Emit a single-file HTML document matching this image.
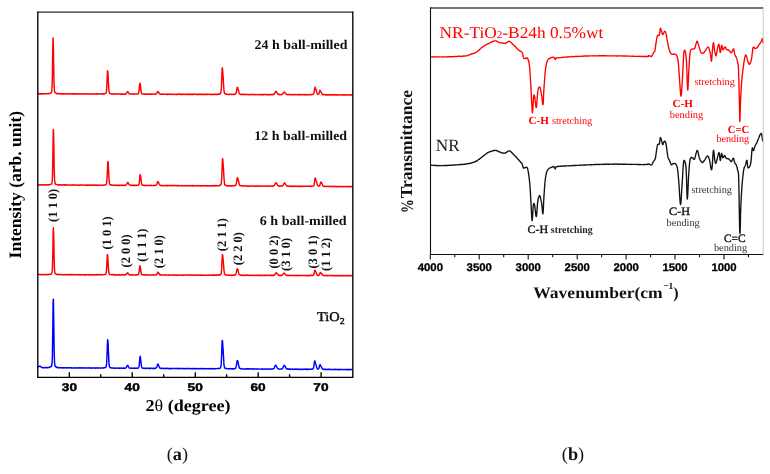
<!DOCTYPE html>
<html><head><meta charset="utf-8">
<style>
html,body{margin:0;padding:0;background:#fff;}
body{width:770px;height:474px;overflow:hidden;}
svg{display:block;will-change:transform;}
svg text{font-family:"Liberation Serif",serif;text-rendering:geometricPrecision;}
svg .sans text{font-family:"Liberation Sans",sans-serif;font-weight:bold;}
.sans{font-family:"Liberation Sans",sans-serif;font-weight:bold;}
.b{font-weight:bold;}
</style></head>
<body>
<svg width="770" height="474" viewBox="0 0 770 474">
<rect width="770" height="474" fill="#fff"/>
<!-- ================= (a) ================= -->
<g fill="none" stroke-linejoin="round" stroke-linecap="round">
<path d="M38.4 93.6L38.6 93.9L38.9 93.9L39.1 93.7L39.4 93.8L39.6 93.8L39.9 93.8L40.1 93.9L40.4 93.6L40.6 93.6L40.9 93.9L41.1 93.8L41.4 93.9L41.6 93.6L41.9 93.8L42.1 93.9L42.4 93.7L42.6 93.9L42.9 93.9L43.1 93.6L43.4 93.6L43.6 93.8L43.9 93.9L44.1 93.7L44.4 93.7L44.6 93.7L44.9 93.6L45.1 93.6L45.4 93.7L45.6 93.7L45.9 93.6L46.1 93.6L46.4 93.6L46.6 93.7L46.9 93.6L47.1 93.5L47.4 93.8L47.6 93.7L47.9 93.7L48.1 93.5L48.4 93.8L48.6 93.7L48.9 93.4L49.1 93.5L49.4 93.6L49.6 93.5L49.9 93.6L50.1 93.3L50.4 93.3L50.6 93.2L50.9 92.9L51.1 92.7L51.4 92.5L51.6 91.8L51.9 90.0L52.1 85.7L52.4 75.7L52.6 59.8L52.9 43.5L53.0 39.4L53.1 37.9L53.4 46.2L53.6 61.7L53.9 76.3L54.1 85.4L54.4 89.8L54.6 91.6L54.9 92.4L55.1 92.7L55.4 92.9L55.6 93.1L55.9 93.1L56.1 93.2L56.4 93.5L56.6 93.7L56.9 93.6L57.1 93.5L57.4 93.5L57.6 93.6L57.9 93.8L58.1 93.8L58.4 93.7L58.6 93.8L58.9 93.6L59.1 93.7L59.4 93.9L59.6 93.8L59.9 93.8L60.1 93.7L60.4 93.8L60.6 94.0L60.9 93.6L61.1 93.9L61.4 93.9L61.6 94.0L61.9 93.9L62.1 93.9L62.4 93.8L62.6 93.9L62.9 93.8L63.1 93.7L63.4 94.0L63.6 93.9L63.9 93.7L64.2 93.9L64.4 93.8L64.7 93.8L64.9 93.8L65.2 93.9L65.4 93.9L65.7 93.9L65.9 93.8L66.2 93.7L66.4 93.8L66.7 93.8L66.9 93.9L67.2 94.0L67.4 94.0L67.7 94.0L67.9 94.0L68.2 93.8L68.4 94.0L68.7 93.9L68.9 93.7L69.2 93.7L69.4 93.7L69.7 94.0L69.9 93.8L70.2 93.8L70.4 93.9L70.7 93.8L70.9 93.7L71.2 93.8L71.4 93.9L71.7 93.8L71.9 93.8L72.2 94.0L72.4 93.9L72.7 93.8L72.9 93.9L73.2 93.7L73.4 93.9L73.7 93.9L73.9 93.8L74.2 93.8L74.4 94.1L74.7 93.9L74.9 93.8L75.2 94.0L75.4 94.0L75.7 93.7L75.9 93.7L76.2 93.8L76.4 94.0L76.7 93.8L76.9 94.0L77.2 94.0L77.4 93.9L77.7 93.8L77.9 94.1L78.2 94.0L78.4 93.9L78.7 93.8L78.9 94.0L79.2 93.9L79.4 94.0L79.7 93.9L79.9 94.0L80.2 93.8L80.4 93.9L80.7 94.1L80.9 94.1L81.2 93.9L81.4 94.1L81.7 93.9L81.9 94.1L82.2 94.0L82.4 93.9L82.7 93.9L82.9 93.8L83.2 94.1L83.4 93.8L83.7 94.1L83.9 94.1L84.2 94.0L84.4 93.8L84.7 94.1L84.9 94.1L85.2 94.0L85.4 94.0L85.7 93.9L85.9 93.9L86.2 93.8L86.4 94.0L86.7 93.9L86.9 93.8L87.2 93.8L87.4 94.0L87.7 93.9L87.9 94.0L88.2 93.9L88.4 94.1L88.7 94.1L88.9 93.8L89.2 93.9L89.4 93.9L89.7 94.1L89.9 94.1L90.2 93.9L90.4 93.9L90.7 94.0L90.9 94.1L91.2 94.1L91.4 93.9L91.7 94.1L91.9 94.0L92.2 94.0L92.4 94.1L92.7 93.9L92.9 94.1L93.2 93.8L93.4 93.9L93.7 94.1L93.9 93.9L94.2 94.1L94.4 94.0L94.7 94.1L94.9 93.9L95.2 93.9L95.4 93.9L95.7 94.1L95.9 94.0L96.2 94.1L96.4 94.1L96.7 93.8L96.9 94.0L97.2 93.8L97.4 93.8L97.7 93.8L97.9 94.1L98.2 94.1L98.4 94.1L98.7 93.9L98.9 94.0L99.2 94.1L99.4 93.9L99.7 94.0L99.9 93.9L100.2 93.8L100.4 93.9L100.7 94.1L100.9 94.0L101.2 94.1L101.4 93.9L101.7 93.9L101.9 94.0L102.2 94.0L102.4 93.7L102.7 94.0L102.9 93.7L103.2 93.7L103.4 94.0L103.7 93.7L103.9 93.7L104.2 94.0L104.4 93.7L104.7 93.6L104.9 93.5L105.2 93.5L105.4 93.6L105.7 93.2L105.9 93.2L106.2 92.5L106.4 91.4L106.7 88.7L106.9 84.0L107.2 78.0L107.4 72.7L107.5 71.2L107.7 70.8L107.9 72.5L108.2 76.9L108.4 82.6L108.7 87.0L108.9 90.3L109.2 92.0L109.4 92.8L109.7 93.1L109.9 93.6L110.2 93.7L110.4 93.8L110.7 93.6L110.9 93.7L111.2 93.8L111.4 94.0L111.7 93.9L111.9 94.0L112.2 94.0L112.4 93.8L112.7 94.0L112.9 93.9L113.2 93.9L113.4 93.8L113.7 93.9L113.9 94.2L114.2 94.0L114.4 94.0L114.7 94.1L114.9 94.2L115.2 94.0L115.4 93.9L115.7 94.0L115.9 94.0L116.2 94.1L116.4 94.2L116.7 94.0L116.9 94.0L117.2 94.0L117.4 94.1L117.7 94.1L117.9 93.9L118.2 93.9L118.4 94.0L118.7 93.9L118.9 94.1L119.2 93.9L119.4 93.9L119.7 94.1L119.9 94.0L120.2 94.2L120.4 94.1L120.7 94.2L120.9 93.9L121.2 94.1L121.4 94.2L121.7 93.9L121.9 94.2L122.2 93.9L122.4 94.2L122.7 94.2L122.9 94.2L123.2 94.0L123.4 93.9L123.7 94.1L123.9 94.2L124.2 94.0L124.4 94.2L124.7 93.9L124.9 94.2L125.2 93.8L125.4 93.9L125.7 94.1L125.9 93.9L126.2 93.8L126.4 93.5L126.7 93.1L126.9 92.6L127.2 91.9L127.4 91.7L127.7 91.6L127.9 92.0L128.2 92.3L128.4 92.6L128.7 93.0L128.9 93.6L129.2 93.8L129.4 93.9L129.7 94.0L129.9 94.1L130.2 94.0L130.4 94.0L130.7 94.0L130.9 94.0L131.2 93.9L131.4 94.1L131.7 94.0L131.9 94.1L132.2 93.9L132.4 94.0L132.7 93.9L132.9 93.9L133.2 94.0L133.4 94.2L133.7 94.0L133.9 94.0L134.2 94.1L134.4 94.0L134.7 93.9L134.9 94.1L135.2 94.1L135.4 94.1L135.7 94.0L135.9 94.1L136.2 94.1L136.4 93.9L136.7 94.0L136.9 94.0L137.2 93.9L137.4 93.9L137.7 93.9L137.9 94.0L138.2 93.9L138.4 93.4L138.7 93.0L138.9 91.7L139.2 89.7L139.4 87.1L139.7 84.6L139.8 83.3L139.9 83.3L140.2 83.9L140.4 85.3L140.7 87.7L140.9 90.0L141.2 91.6L141.4 92.9L141.7 93.5L141.9 93.7L142.2 94.0L142.4 94.0L142.7 94.1L142.9 94.0L143.2 93.9L143.4 93.9L143.7 94.0L143.9 94.1L144.2 94.2L144.4 93.9L144.7 94.2L144.9 94.2L145.2 94.1L145.4 94.1L145.7 94.0L145.9 94.2L146.2 94.0L146.4 94.3L146.7 94.2L146.9 94.2L147.2 94.1L147.4 94.3L147.7 94.3L147.9 94.0L148.2 94.3L148.4 94.3L148.7 94.2L148.9 94.2L149.2 94.1L149.4 94.3L149.7 94.3L149.9 94.1L150.2 94.3L150.4 94.1L150.7 94.0L150.9 94.1L151.2 94.0L151.4 94.3L151.7 94.3L151.9 94.0L152.2 94.2L152.4 94.1L152.7 94.0L152.9 94.1L153.2 94.1L153.4 94.3L153.7 94.0L153.9 94.0L154.2 94.1L154.4 94.0L154.7 94.2L154.9 94.2L155.2 94.2L155.4 94.0L155.7 94.0L155.9 94.0L156.2 93.8L156.4 93.8L156.7 93.3L156.9 93.1L157.2 92.6L157.4 92.0L157.7 91.7L157.7 91.5L157.9 91.4L158.2 91.7L158.4 92.0L158.7 92.4L158.9 92.8L159.2 93.2L159.4 93.5L159.7 94.0L159.9 93.9L160.2 94.2L160.4 94.1L160.7 94.3L160.9 94.2L161.2 94.3L161.4 94.0L161.7 94.2L161.9 94.2L162.2 94.1L162.4 94.2L162.7 94.2L162.9 94.2L163.2 94.0L163.4 94.2L163.7 94.2L163.9 94.1L164.2 94.2L164.4 94.3L164.7 94.3L164.9 94.2L165.2 94.3L165.4 94.2L165.7 94.1L165.9 94.1L166.2 94.2L166.4 94.3L166.7 94.4L166.9 94.4L167.2 94.2L167.4 94.4L167.7 94.2L167.9 94.4L168.2 94.2L168.4 94.3L168.7 94.4L168.9 94.2L169.2 94.1L169.4 94.3L169.7 94.3L169.9 94.2L170.2 94.1L170.4 94.2L170.7 94.2L170.9 94.2L171.2 94.4L171.4 94.3L171.7 94.3L171.9 94.4L172.2 94.4L172.4 94.3L172.7 94.4L172.9 94.3L173.2 94.3L173.4 94.3L173.7 94.2L173.9 94.3L174.2 94.3L174.4 94.4L174.7 94.4L174.9 94.4L175.2 94.4L175.4 94.4L175.7 94.3L175.9 94.2L176.2 94.2L176.4 94.4L176.7 94.4L176.9 94.3L177.2 94.2L177.4 94.4L177.7 94.3L177.9 94.3L178.2 94.1L178.4 94.3L178.7 94.4L178.9 94.3L179.2 94.2L179.4 94.3L179.7 94.1L179.9 94.3L180.2 94.5L180.4 94.4L180.7 94.3L180.9 94.4L181.2 94.3L181.4 94.2L181.7 94.2L181.9 94.4L182.2 94.2L182.4 94.1L182.7 94.4L182.9 94.3L183.2 94.3L183.4 94.3L183.7 94.4L183.9 94.2L184.2 94.4L184.4 94.4L184.7 94.4L184.9 94.2L185.2 94.3L185.4 94.2L185.7 94.3L185.9 94.2L186.2 94.4L186.4 94.4L186.7 94.3L186.9 94.2L187.2 94.5L187.4 94.4L187.7 94.4L187.9 94.1L188.2 94.5L188.4 94.4L188.7 94.3L188.9 94.3L189.2 94.4L189.4 94.4L189.7 94.2L189.9 94.4L190.2 94.2L190.4 94.5L190.7 94.3L190.9 94.5L191.2 94.4L191.4 94.4L191.7 94.2L191.9 94.3L192.2 94.2L192.4 94.2L192.7 94.4L192.9 94.3L193.2 94.4L193.4 94.2L193.7 94.4L193.9 94.4L194.2 94.3L194.4 94.2L194.7 94.3L194.9 94.3L195.2 94.2L195.4 94.2L195.7 94.2L195.9 94.4L196.2 94.5L196.4 94.2L196.7 94.2L196.9 94.4L197.2 94.5L197.4 94.5L197.7 94.4L197.9 94.3L198.2 94.5L198.4 94.2L198.7 94.4L198.9 94.2L199.2 94.3L199.4 94.4L199.7 94.3L199.9 94.2L200.2 94.3L200.4 94.5L200.7 94.3L200.9 94.4L201.2 94.3L201.4 94.4L201.7 94.3L201.9 94.4L202.2 94.5L202.4 94.5L202.7 94.2L202.9 94.5L203.2 94.5L203.4 94.3L203.7 94.3L203.9 94.4L204.2 94.5L204.4 94.3L204.7 94.5L204.9 94.5L205.2 94.2L205.4 94.5L205.7 94.2L205.9 94.2L206.2 94.4L206.4 94.2L206.7 94.3L206.9 94.2L207.2 94.4L207.4 94.5L207.7 94.5L207.9 94.2L208.2 94.2L208.4 94.5L208.7 94.2L208.9 94.3L209.2 94.2L209.4 94.2L209.7 94.2L209.9 94.4L210.2 94.5L210.4 94.4L210.7 94.5L210.9 94.4L211.2 94.3L211.4 94.4L211.7 94.5L211.9 94.4L212.2 94.3L212.4 94.2L212.7 94.5L212.9 94.4L213.2 94.3L213.4 94.4L213.7 94.4L213.9 94.4L214.2 94.2L214.4 94.3L214.7 94.3L214.9 94.2L215.2 94.5L215.4 94.3L215.7 94.4L215.9 94.4L216.2 94.4L216.4 94.4L216.7 94.4L216.9 94.2L217.2 94.5L217.4 94.1L217.7 94.4L217.9 94.4L218.2 94.3L218.4 94.0L218.7 94.0L218.9 94.2L219.2 94.1L219.4 94.0L219.7 94.1L219.9 93.7L220.2 93.7L220.4 93.5L220.7 93.0L220.9 92.3L221.2 90.5L221.4 86.7L221.7 80.5L221.9 73.6L222.2 68.3L222.2 68.1L222.4 68.0L222.7 70.8L222.9 74.2L223.2 77.7L223.4 81.9L223.7 86.2L223.9 89.8L224.2 92.0L224.4 93.1L224.7 93.4L224.9 93.7L225.2 93.8L225.4 94.0L225.7 94.0L225.9 94.0L226.2 94.3L226.4 94.4L226.7 94.2L226.9 94.1L227.2 94.3L227.4 94.3L227.7 94.5L227.9 94.4L228.2 94.4L228.4 94.4L228.7 94.4L228.9 94.5L229.2 94.5L229.4 94.3L229.7 94.2L229.9 94.3L230.2 94.4L230.4 94.2L230.7 94.3L230.9 94.4L231.2 94.2L231.4 94.5L231.7 94.4L231.9 94.3L232.2 94.3L232.4 94.3L232.7 94.3L232.9 94.5L233.2 94.4L233.4 94.4L233.7 94.2L233.9 94.5L234.2 94.2L234.4 94.2L234.7 94.1L234.9 94.4L235.2 94.1L235.4 94.1L235.7 93.8L235.9 93.4L236.2 92.5L236.4 91.4L236.7 90.0L236.9 88.6L237.2 87.4L237.2 87.4L237.4 87.2L237.7 87.7L237.9 88.4L238.2 89.2L238.4 90.3L238.7 91.3L238.9 92.5L239.2 93.1L239.4 93.6L239.7 93.9L239.9 94.3L240.2 94.2L240.4 94.2L240.7 94.2L240.9 94.4L241.2 94.4L241.4 94.5L241.7 94.3L241.9 94.4L242.2 94.5L242.4 94.3L242.7 94.3L242.9 94.5L243.2 94.4L243.4 94.3L243.7 94.4L243.9 94.5L244.2 94.5L244.4 94.3L244.7 94.3L244.9 94.6L245.2 94.5L245.4 94.4L245.7 94.6L245.9 94.3L246.2 94.4L246.4 94.6L246.7 94.6L246.9 94.4L247.2 94.6L247.4 94.5L247.7 94.6L247.9 94.7L248.2 94.5L248.4 94.6L248.7 94.5L248.9 94.7L249.2 94.6L249.4 94.6L249.7 94.6L249.9 94.7L250.2 94.4L250.4 94.4L250.7 94.6L250.9 94.6L251.2 94.5L251.4 94.5L251.7 94.5L251.9 94.7L252.2 94.6L252.4 94.6L252.7 94.4L252.9 94.7L253.2 94.5L253.4 94.4L253.7 94.5L253.9 94.6L254.2 94.4L254.4 94.4L254.7 94.5L254.9 94.7L255.2 94.6L255.4 94.7L255.7 94.6L255.9 94.6L256.1 94.6L256.4 94.6L256.6 94.6L256.9 94.7L257.1 94.7L257.4 94.5L257.6 94.6L257.9 94.5L258.1 94.5L258.4 94.6L258.6 94.6L258.9 94.6L259.1 94.7L259.4 94.4L259.6 94.6L259.9 94.7L260.1 94.6L260.4 94.6L260.6 94.5L260.9 94.5L261.1 94.7L261.4 94.7L261.6 94.6L261.9 94.7L262.1 94.7L262.4 94.7L262.6 94.5L262.9 94.6L263.1 94.7L263.4 94.5L263.6 94.7L263.9 94.6L264.1 94.5L264.4 94.6L264.6 94.4L264.9 94.5L265.1 94.5L265.4 94.4L265.6 94.5L265.9 94.5L266.1 94.7L266.4 94.6L266.6 94.5L266.9 94.8L267.1 94.5L267.4 94.6L267.6 94.7L267.9 94.7L268.1 94.6L268.4 94.7L268.6 94.6L268.9 94.7L269.1 94.6L269.4 94.7L269.6 94.7L269.9 94.4L270.1 94.4L270.4 94.7L270.6 94.5L270.9 94.4L271.1 94.5L271.4 94.6L271.6 94.7L271.9 94.5L272.1 94.6L272.4 94.7L272.6 94.4L272.9 94.6L273.1 94.7L273.4 94.5L273.6 94.4L273.9 94.2L274.1 94.3L274.4 94.0L274.6 93.3L274.9 93.0L275.1 92.4L275.4 92.0L275.6 91.4L275.7 91.4L275.9 91.3L276.1 91.5L276.4 91.9L276.6 92.2L276.9 92.6L277.1 93.0L277.4 93.2L277.6 93.7L277.9 94.1L278.1 94.1L278.4 94.3L278.6 94.6L278.9 94.3L279.1 94.6L279.4 94.4L279.6 94.5L279.9 94.7L280.1 94.4L280.4 94.5L280.6 94.5L280.9 94.7L281.1 94.7L281.4 94.4L281.6 94.5L281.9 94.6L282.1 94.4L282.4 94.2L282.6 94.2L282.9 93.7L283.1 93.4L283.4 92.7L283.6 92.6L283.9 92.2L284.0 92.2L284.1 92.2L284.4 92.0L284.6 92.3L284.9 92.5L285.1 92.9L285.4 93.3L285.6 93.4L285.9 93.7L286.1 94.1L286.4 94.2L286.6 94.3L286.9 94.4L287.1 94.6L287.4 94.6L287.6 94.7L287.9 94.6L288.1 94.6L288.4 94.5L288.6 94.6L288.9 94.5L289.1 94.7L289.4 94.6L289.6 94.5L289.9 94.6L290.1 94.6L290.4 94.6L290.6 94.7L290.9 94.5L291.1 94.8L291.4 94.7L291.6 94.7L291.9 94.5L292.1 94.6L292.4 94.7L292.6 94.7L292.9 94.8L293.1 94.8L293.4 94.6L293.6 94.7L293.9 94.6L294.1 94.5L294.4 94.6L294.6 94.6L294.9 94.5L295.1 94.7L295.4 94.8L295.6 94.7L295.9 94.8L296.1 94.6L296.4 94.6L296.6 94.7L296.9 94.8L297.1 94.7L297.4 94.5L297.6 94.5L297.9 94.6L298.1 94.7L298.4 94.5L298.6 94.6L298.9 94.8L299.1 94.9L299.4 94.6L299.6 94.7L299.9 94.7L300.1 94.5L300.4 94.6L300.6 94.6L300.9 94.6L301.1 94.8L301.4 94.8L301.6 94.5L301.9 94.6L302.1 94.8L302.4 94.6L302.6 94.6L302.9 94.6L303.1 94.5L303.4 94.5L303.6 94.6L303.9 94.7L304.1 94.9L304.4 94.8L304.6 94.6L304.9 94.8L305.1 94.6L305.4 94.7L305.6 94.6L305.9 94.9L306.1 94.7L306.4 94.8L306.6 94.8L306.9 94.8L307.1 94.7L307.4 94.8L307.6 94.7L307.9 94.8L308.1 94.8L308.4 94.7L308.6 94.7L308.9 94.7L309.1 94.7L309.4 94.8L309.6 94.7L309.9 94.7L310.1 94.5L310.4 94.7L310.6 94.6L310.9 94.6L311.1 94.6L311.4 94.7L311.6 94.5L311.9 94.5L312.1 94.6L312.4 94.6L312.6 94.5L312.9 94.3L313.1 94.3L313.4 94.3L313.6 93.9L313.9 93.2L314.1 92.1L314.4 90.5L314.6 88.8L314.9 87.3L315.0 87.1L315.1 87.3L315.4 87.8L315.6 88.9L315.9 89.3L316.1 90.1L316.4 90.5L316.6 91.7L316.9 92.7L317.1 93.3L317.4 94.0L317.6 94.0L317.9 94.4L318.1 94.3L318.4 94.3L318.6 94.0L318.9 93.8L319.1 93.0L319.4 92.2L319.6 91.3L319.9 90.5L320.0 90.1L320.1 90.5L320.4 90.9L320.6 91.3L320.9 91.6L321.1 92.0L321.4 92.5L321.6 92.9L321.9 93.6L322.1 94.0L322.4 94.3L322.6 94.6L322.9 94.5L323.1 94.7L323.4 94.5L323.6 94.7L323.9 94.5L324.1 94.8L324.4 94.5L324.6 94.6L324.9 94.6L325.1 94.6L325.4 94.8L325.6 94.7L325.9 94.7L326.1 94.9L326.4 94.9L326.6 94.8L326.9 94.9L327.1 94.9L327.4 94.7L327.6 94.9L327.9 94.7L328.1 94.8L328.4 94.7L328.6 94.7L328.9 94.9L329.1 94.9L329.4 94.7L329.6 94.9L329.9 94.7L330.1 94.9L330.4 95.0L330.6 94.9L330.9 94.6L331.1 94.8L331.4 94.8L331.6 94.7L331.9 94.9L332.1 94.8L332.4 94.9L332.6 94.9L332.9 94.8L333.1 94.7L333.4 94.9L333.6 95.0L333.9 94.7L334.1 94.9L334.4 94.8L334.6 94.8L334.9 94.9L335.1 95.0L335.4 94.7L335.6 95.0L335.9 94.8L336.1 95.0L336.4 94.7L336.6 94.9L336.9 94.7L337.1 94.8L337.4 95.0L337.6 94.9L337.9 94.9L338.1 94.8L338.4 94.8L338.6 94.8L338.9 94.9L339.1 94.9L339.4 94.7L339.6 94.8L339.9 94.9L340.1 94.9L340.4 95.0L340.6 95.0L340.9 94.7L341.1 94.8L341.4 94.7L341.6 94.7L341.9 94.7L342.1 94.7L342.4 95.0L342.6 94.9L342.9 95.0L343.1 94.8L343.4 94.7L343.6 95.0L343.9 95.0L344.1 95.0L344.4 94.7L344.6 94.8L344.9 94.9L345.1 95.0L345.4 95.0L345.6 94.9L345.9 94.8L346.1 94.7L346.4 95.0L346.6 95.1L346.9 95.0L347.1 94.9L347.4 94.8L347.6 94.8L347.9 95.0L348.1 95.0L348.4 95.0L348.6 94.8L348.9 94.9L349.1 94.9L349.4 94.9L349.6 95.0L349.9 95.0L350.1 95.0L350.4 95.0L350.6 95.0L350.9 94.9L351.1 94.9L351.4 94.8L351.6 95.0L351.9 94.8L352.1 94.9" stroke="#ff0000" stroke-width="1.45"/>
<path d="M38.4 185.0L38.6 185.0L38.9 184.7L39.1 184.7L39.4 185.0L39.6 185.0L39.9 184.9L40.1 184.8L40.4 184.9L40.6 184.9L40.9 184.9L41.1 184.8L41.4 184.9L41.6 184.8L41.9 185.0L42.1 185.1L42.4 185.0L42.6 184.9L42.9 184.9L43.1 184.8L43.4 184.7L43.6 184.7L43.9 184.9L44.1 184.8L44.4 184.8L44.6 185.0L44.9 184.9L45.1 184.9L45.4 184.8L45.6 184.7L45.9 184.8L46.1 184.7L46.4 184.9L46.6 185.0L46.9 184.9L47.1 184.7L47.4 185.0L47.6 184.9L47.9 184.9L48.1 184.9L48.4 184.9L48.6 184.9L48.9 184.7L49.1 184.9L49.4 184.8L49.6 184.5L49.9 184.7L50.1 184.6L50.4 184.4L50.6 184.4L50.9 184.3L51.1 184.3L51.4 183.9L51.6 183.7L51.9 182.9L52.1 181.8L52.4 178.2L52.6 169.6L52.9 154.8L53.1 137.8L53.3 131.0L53.4 129.4L53.6 135.2L53.9 149.7L54.1 165.0L54.4 175.1L54.6 180.5L54.9 182.4L55.1 183.5L55.4 183.7L55.6 184.2L55.9 184.3L56.1 184.4L56.4 184.5L56.6 184.6L56.9 184.6L57.1 184.6L57.4 184.6L57.6 184.7L57.9 184.9L58.1 184.8L58.4 184.7L58.6 185.0L58.9 184.9L59.1 185.0L59.4 184.8L59.6 185.0L59.9 184.7L60.1 185.0L60.4 184.8L60.6 184.8L60.9 185.1L61.1 184.8L61.4 185.0L61.6 185.1L61.9 184.9L62.1 184.9L62.4 185.1L62.6 184.9L62.9 185.1L63.1 184.8L63.4 184.9L63.6 184.9L63.9 185.1L64.2 184.8L64.4 185.2L64.7 184.8L64.9 185.1L65.2 184.8L65.4 184.9L65.7 185.1L65.9 184.9L66.2 184.9L66.4 185.1L66.7 185.0L66.9 184.9L67.2 185.2L67.4 184.9L67.7 184.9L67.9 185.0L68.2 185.1L68.4 185.1L68.7 184.9L68.9 185.0L69.2 184.9L69.4 185.0L69.7 185.1L69.9 185.1L70.2 185.2L70.4 185.1L70.7 185.2L70.9 185.1L71.2 185.0L71.4 185.0L71.7 185.1L71.9 185.0L72.2 184.9L72.4 185.0L72.7 185.2L72.9 184.9L73.2 185.1L73.4 185.0L73.7 185.1L73.9 184.9L74.2 185.2L74.4 185.0L74.7 185.1L74.9 185.1L75.2 184.9L75.4 185.1L75.7 185.0L75.9 184.9L76.2 184.9L76.4 185.0L76.7 184.9L76.9 185.1L77.2 185.1L77.4 185.3L77.7 185.3L77.9 185.3L78.2 185.0L78.4 185.1L78.7 185.0L78.9 185.1L79.2 185.2L79.4 185.2L79.7 185.2L79.9 185.0L80.2 185.1L80.4 185.1L80.7 184.9L80.9 185.0L81.2 185.1L81.4 185.0L81.7 185.2L81.9 185.0L82.2 185.0L82.4 185.0L82.7 185.0L82.9 185.0L83.2 185.1L83.4 185.1L83.7 185.1L83.9 185.2L84.2 185.0L84.4 185.3L84.7 185.3L84.9 185.2L85.2 185.1L85.4 185.1L85.7 185.2L85.9 185.0L86.2 185.1L86.4 185.2L86.7 185.0L86.9 185.0L87.2 185.3L87.4 185.1L87.7 185.2L87.9 185.3L88.2 185.2L88.4 185.1L88.7 185.3L88.9 185.1L89.2 185.0L89.4 185.2L89.7 185.0L89.9 185.1L90.2 185.3L90.4 185.2L90.7 185.0L90.9 185.2L91.2 185.1L91.4 185.2L91.7 185.1L91.9 185.2L92.2 185.0L92.4 185.1L92.7 185.1L92.9 185.3L93.2 185.0L93.4 185.3L93.7 185.1L93.9 185.2L94.2 185.1L94.4 185.2L94.7 185.3L94.9 185.1L95.2 185.0L95.4 185.0L95.7 185.0L95.9 185.3L96.2 185.2L96.4 185.4L96.7 185.3L96.9 185.0L97.2 185.2L97.4 185.3L97.7 185.3L97.9 185.2L98.2 185.1L98.4 185.2L98.7 185.3L98.9 185.1L99.2 185.2L99.4 185.2L99.7 185.3L99.9 185.3L100.2 185.3L100.4 185.3L100.7 185.1L100.9 185.1L101.2 185.2L101.4 185.1L101.7 185.1L101.9 185.2L102.2 185.3L102.4 185.2L102.7 185.3L102.9 185.0L103.2 185.1L103.4 185.3L103.7 185.0L103.9 185.0L104.2 184.9L104.4 184.9L104.7 185.1L104.9 185.1L105.2 185.0L105.4 184.7L105.7 184.7L105.9 184.5L106.2 184.4L106.4 183.9L106.7 182.7L106.9 180.4L107.2 176.0L107.4 170.3L107.7 164.6L107.8 162.3L107.9 161.5L108.2 162.9L108.4 167.0L108.7 172.3L108.9 177.5L109.2 180.9L109.4 183.0L109.7 183.9L109.9 184.6L110.2 184.7L110.4 184.8L110.7 184.7L110.9 184.9L111.2 184.8L111.4 185.1L111.7 185.2L111.9 185.0L112.2 185.1L112.4 185.1L112.7 185.1L112.9 185.2L113.2 185.3L113.4 185.3L113.7 185.2L113.9 185.4L114.2 185.2L114.4 185.3L114.7 185.3L114.9 185.3L115.2 185.4L115.4 185.2L115.7 185.3L115.9 185.2L116.2 185.3L116.4 185.4L116.7 185.3L116.9 185.1L117.2 185.3L117.4 185.4L117.7 185.4L117.9 185.3L118.2 185.4L118.4 185.1L118.7 185.5L118.9 185.4L119.2 185.3L119.4 185.4L119.7 185.4L119.9 185.2L120.2 185.4L120.4 185.4L120.7 185.2L120.9 185.4L121.2 185.3L121.4 185.2L121.7 185.4L121.9 185.2L122.2 185.4L122.4 185.3L122.7 185.2L122.9 185.3L123.2 185.3L123.4 185.2L123.7 185.5L123.9 185.1L124.2 185.1L124.4 185.3L124.7 185.4L124.9 185.3L125.2 185.4L125.4 185.2L125.7 185.3L125.9 185.1L126.2 184.9L126.4 184.8L126.7 184.2L126.9 183.7L127.2 183.4L127.4 182.6L127.6 182.5L127.7 182.5L127.9 182.4L128.2 182.8L128.4 183.3L128.7 183.9L128.9 184.1L129.2 184.5L129.4 184.9L129.7 185.1L129.9 185.1L130.2 185.1L130.4 185.3L130.7 185.5L130.9 185.3L131.2 185.3L131.4 185.3L131.7 185.3L131.9 185.5L132.2 185.3L132.4 185.4L132.7 185.3L132.9 185.4L133.2 185.5L133.4 185.2L133.7 185.5L133.9 185.3L134.2 185.4L134.4 185.5L134.7 185.4L134.9 185.3L135.2 185.5L135.4 185.2L135.7 185.4L135.9 185.3L136.2 185.3L136.4 185.5L136.7 185.4L136.9 185.3L137.2 185.2L137.4 185.2L137.7 185.2L137.9 185.1L138.2 185.1L138.4 185.2L138.7 184.7L138.9 184.5L139.2 183.4L139.4 181.6L139.7 179.0L139.9 176.2L140.1 174.9L140.2 174.6L140.4 174.9L140.7 176.3L140.9 178.7L141.2 181.0L141.4 182.7L141.7 184.0L141.9 184.8L142.2 184.9L142.4 185.0L142.7 185.1L142.9 185.1L143.2 185.3L143.4 185.3L143.7 185.3L143.9 185.5L144.2 185.3L144.4 185.5L144.7 185.4L144.9 185.4L145.2 185.5L145.4 185.4L145.7 185.6L145.9 185.6L146.2 185.4L146.4 185.5L146.7 185.6L146.9 185.5L147.2 185.5L147.4 185.6L147.7 185.6L147.9 185.5L148.2 185.6L148.4 185.4L148.7 185.5L148.9 185.5L149.2 185.4L149.4 185.4L149.7 185.4L149.9 185.6L150.2 185.4L150.4 185.5L150.7 185.6L150.9 185.4L151.2 185.6L151.4 185.3L151.7 185.3L151.9 185.4L152.2 185.4L152.4 185.6L152.7 185.6L152.9 185.6L153.2 185.5L153.4 185.5L153.7 185.4L153.9 185.6L154.2 185.4L154.4 185.4L154.7 185.5L154.9 185.3L155.2 185.4L155.4 185.6L155.7 185.2L155.9 185.2L156.2 185.1L156.4 184.9L156.7 184.6L156.9 184.1L157.2 183.4L157.4 182.6L157.7 181.9L157.8 181.8L157.9 181.6L158.2 181.7L158.4 182.3L158.7 182.6L158.9 183.3L159.2 184.2L159.4 184.6L159.7 185.1L159.9 185.0L160.2 185.3L160.4 185.5L160.7 185.4L160.9 185.6L161.2 185.5L161.4 185.4L161.7 185.7L161.9 185.5L162.2 185.5L162.4 185.6L162.7 185.5L162.9 185.7L163.2 185.6L163.4 185.6L163.7 185.6L163.9 185.7L164.2 185.7L164.4 185.7L164.7 185.5L164.9 185.5L165.2 185.6L165.4 185.4L165.7 185.4L165.9 185.7L166.2 185.4L166.4 185.7L166.7 185.6L166.9 185.7L167.2 185.4L167.4 185.5L167.7 185.7L167.9 185.4L168.2 185.4L168.4 185.5L168.7 185.5L168.9 185.5L169.2 185.7L169.4 185.5L169.7 185.8L169.9 185.7L170.2 185.4L170.4 185.7L170.7 185.5L170.9 185.6L171.2 185.6L171.4 185.5L171.7 185.6L171.9 185.5L172.2 185.5L172.4 185.8L172.7 185.7L172.9 185.6L173.2 185.7L173.4 185.8L173.7 185.5L173.9 185.6L174.2 185.5L174.4 185.5L174.7 185.5L174.9 185.5L175.2 185.5L175.4 185.5L175.7 185.6L175.9 185.7L176.2 185.8L176.4 185.8L176.7 185.7L176.9 185.6L177.2 185.8L177.4 185.5L177.7 185.5L177.9 185.8L178.2 185.7L178.4 185.5L178.7 185.6L178.9 185.6L179.2 185.6L179.4 185.6L179.7 185.6L179.9 185.8L180.2 185.8L180.4 185.7L180.7 185.7L180.9 185.6L181.2 185.8L181.4 185.8L181.7 185.6L181.9 185.7L182.2 185.7L182.4 185.7L182.7 185.5L182.9 185.7L183.2 185.6L183.4 185.6L183.7 185.7L183.9 185.7L184.2 185.7L184.4 185.8L184.7 185.8L184.9 185.7L185.2 185.5L185.4 185.8L185.7 185.8L185.9 185.8L186.2 185.7L186.4 185.5L186.7 185.6L186.9 185.6L187.2 185.7L187.4 185.7L187.7 185.6L187.9 185.9L188.2 185.9L188.4 185.8L188.7 185.7L188.9 185.6L189.2 185.6L189.4 185.8L189.7 185.8L189.9 185.6L190.2 185.9L190.4 185.7L190.7 185.7L190.9 185.7L191.2 185.8L191.4 185.7L191.7 185.8L191.9 185.6L192.2 185.8L192.4 185.6L192.7 185.9L192.9 185.6L193.2 185.7L193.4 185.7L193.7 185.7L193.9 185.7L194.2 185.9L194.4 185.6L194.7 185.8L194.9 185.8L195.2 185.8L195.4 185.7L195.7 185.7L195.9 185.7L196.2 185.7L196.4 185.7L196.7 185.6L196.9 185.7L197.2 185.6L197.4 185.7L197.7 185.8L197.9 185.7L198.2 185.6L198.4 185.8L198.7 185.9L198.9 185.7L199.2 185.8L199.4 185.8L199.7 185.9L199.9 185.8L200.2 185.7L200.4 185.7L200.7 185.9L200.9 185.7L201.2 185.6L201.4 185.9L201.7 185.7L201.9 185.7L202.2 185.7L202.4 185.7L202.7 185.9L202.9 185.7L203.2 185.8L203.4 185.8L203.7 185.9L203.9 185.6L204.2 185.8L204.4 185.7L204.7 185.7L204.9 185.8L205.2 185.7L205.4 185.6L205.7 185.8L205.9 185.9L206.2 185.8L206.4 185.8L206.7 185.9L206.9 185.9L207.2 185.7L207.4 185.7L207.7 186.0L207.9 185.9L208.2 185.7L208.4 185.9L208.7 185.9L208.9 185.8L209.2 185.9L209.4 185.8L209.7 185.7L209.9 185.7L210.2 185.6L210.4 185.9L210.7 185.7L210.9 185.8L211.2 185.8L211.4 185.8L211.7 186.0L211.9 185.8L212.2 185.8L212.4 185.8L212.7 185.7L212.9 185.7L213.2 185.8L213.4 185.9L213.7 185.6L213.9 186.0L214.2 185.9L214.4 185.6L214.7 185.9L214.9 185.8L215.2 185.8L215.4 185.6L215.7 185.8L215.9 185.8L216.2 185.9L216.4 185.8L216.7 185.8L216.9 185.8L217.2 185.6L217.4 185.6L217.7 185.7L217.9 185.6L218.2 185.6L218.4 185.6L218.7 185.7L218.9 185.7L219.2 185.6L219.4 185.7L219.7 185.3L219.9 185.4L220.2 185.2L220.4 185.2L220.7 185.0L220.9 184.5L221.2 183.9L221.4 182.3L221.7 178.8L221.9 173.3L222.2 166.0L222.4 160.0L222.5 159.0L222.7 158.7L222.9 161.1L223.2 164.7L223.4 167.9L223.7 172.4L223.9 176.8L224.2 180.6L224.4 183.0L224.7 184.2L224.9 185.0L225.2 185.0L225.4 185.2L225.7 185.5L225.9 185.3L226.2 185.6L226.4 185.8L226.7 185.7L226.9 185.8L227.2 185.5L227.4 185.7L227.7 185.8L227.9 185.7L228.2 185.7L228.4 185.9L228.7 185.7L228.9 185.6L229.2 185.8L229.4 186.0L229.7 185.9L229.9 185.9L230.2 185.8L230.4 186.0L230.7 185.7L230.9 185.7L231.2 185.9L231.4 186.0L231.7 185.8L231.9 186.0L232.2 185.7L232.4 185.9L232.7 185.7L232.9 185.7L233.2 185.7L233.4 185.6L233.7 185.8L233.9 185.8L234.2 185.7L234.4 185.8L234.7 185.6L234.9 185.7L235.2 185.6L235.4 185.4L235.7 185.4L235.9 184.6L236.2 184.0L236.4 182.8L236.7 181.3L236.9 179.9L237.2 178.4L237.3 177.9L237.4 177.7L237.7 177.8L237.9 178.7L238.2 179.6L238.4 180.7L238.7 181.8L238.9 183.1L239.2 183.9L239.4 184.7L239.7 185.0L239.9 185.5L240.2 185.8L240.4 185.8L240.7 185.8L240.9 185.7L241.2 185.8L241.4 185.8L241.7 185.8L241.9 185.8L242.2 185.8L242.4 186.0L242.7 186.1L242.9 186.0L243.2 186.0L243.4 185.8L243.7 185.9L243.9 186.1L244.2 186.1L244.4 186.0L244.7 186.0L244.9 186.0L245.2 185.9L245.4 186.1L245.7 185.9L245.9 186.1L246.2 186.0L246.4 186.1L246.7 186.0L246.9 186.0L247.2 186.0L247.4 186.2L247.7 186.1L247.9 186.0L248.2 186.0L248.4 186.2L248.7 186.1L248.9 186.1L249.2 186.2L249.4 185.9L249.7 186.1L249.9 186.1L250.2 186.0L250.4 186.2L250.7 186.2L250.9 186.0L251.2 186.1L251.4 186.1L251.7 186.1L251.9 186.0L252.2 186.1L252.4 186.0L252.7 185.9L252.9 186.1L253.2 186.1L253.4 186.0L253.7 186.0L253.9 186.2L254.2 186.2L254.4 186.0L254.7 186.2L254.9 186.1L255.2 186.0L255.4 186.1L255.7 186.2L255.9 186.2L256.1 186.1L256.4 186.1L256.6 186.0L256.9 185.9L257.1 186.1L257.4 185.9L257.6 186.2L257.9 186.0L258.1 186.1L258.4 186.2L258.6 186.0L258.9 186.2L259.1 186.0L259.4 185.9L259.6 186.1L259.9 186.1L260.1 186.2L260.4 186.1L260.6 185.9L260.9 185.9L261.1 185.9L261.4 186.1L261.6 186.2L261.9 185.9L262.1 186.0L262.4 186.1L262.6 186.2L262.9 186.3L263.1 186.2L263.4 186.2L263.6 186.1L263.9 186.0L264.1 186.1L264.4 186.0L264.6 186.0L264.9 186.2L265.1 186.1L265.4 186.2L265.6 186.1L265.9 186.0L266.1 186.1L266.4 186.1L266.6 186.0L266.9 186.2L267.1 186.3L267.4 186.0L267.6 186.0L267.9 186.2L268.1 186.2L268.4 186.0L268.6 186.1L268.9 186.0L269.1 186.2L269.4 186.1L269.6 186.1L269.9 186.0L270.1 186.1L270.4 186.1L270.6 186.1L270.9 186.0L271.1 186.0L271.4 186.2L271.6 186.3L271.9 186.2L272.1 186.1L272.4 186.2L272.6 185.9L272.9 185.9L273.1 186.1L273.4 185.8L273.6 185.8L273.9 185.9L274.1 185.5L274.4 185.2L274.6 184.9L274.9 184.5L275.1 183.6L275.4 183.3L275.6 182.7L275.7 182.7L275.9 182.6L276.1 182.6L276.4 183.2L276.6 183.2L276.9 183.9L277.1 184.4L277.4 184.7L277.6 185.3L277.9 185.3L278.1 185.6L278.4 185.9L278.6 185.8L278.9 186.1L279.1 186.1L279.4 186.2L279.6 186.0L279.9 185.9L280.1 186.2L280.4 186.0L280.6 186.1L280.9 186.0L281.1 186.1L281.4 186.1L281.6 186.0L281.9 185.9L282.1 185.9L282.4 186.0L282.6 185.7L282.9 185.5L283.1 185.3L283.4 184.8L283.6 184.3L283.9 183.7L284.1 183.3L284.3 182.9L284.4 183.2L284.6 182.9L284.9 183.1L285.1 183.4L285.4 184.0L285.6 184.3L285.9 184.9L286.1 185.3L286.4 185.6L286.6 185.8L286.9 185.8L287.1 186.2L287.4 186.2L287.6 186.0L287.9 186.2L288.1 186.0L288.4 186.0L288.6 186.2L288.9 186.3L289.1 186.3L289.4 186.3L289.6 186.1L289.9 186.3L290.1 186.4L290.4 186.3L290.6 186.2L290.9 186.2L291.1 186.1L291.4 186.3L291.6 186.4L291.9 186.1L292.1 186.4L292.4 186.4L292.6 186.2L292.9 186.4L293.1 186.1L293.4 186.2L293.6 186.3L293.9 186.4L294.1 186.3L294.4 186.1L294.6 186.4L294.9 186.3L295.1 186.4L295.4 186.2L295.6 186.2L295.9 186.1L296.1 186.2L296.4 186.3L296.6 186.2L296.9 186.3L297.1 186.4L297.4 186.2L297.6 186.4L297.9 186.3L298.1 186.2L298.4 186.2L298.6 186.5L298.9 186.4L299.1 186.1L299.4 186.4L299.6 186.3L299.9 186.3L300.1 186.4L300.4 186.2L300.6 186.2L300.9 186.3L301.1 186.5L301.4 186.2L301.6 186.4L301.9 186.4L302.1 186.2L302.4 186.4L302.6 186.4L302.9 186.4L303.1 186.3L303.4 186.2L303.6 186.3L303.9 186.2L304.1 186.3L304.4 186.3L304.6 186.2L304.9 186.2L305.1 186.3L305.4 186.3L305.6 186.3L305.9 186.4L306.1 186.2L306.4 186.3L306.6 186.3L306.9 186.2L307.1 186.2L307.4 186.5L307.6 186.5L307.9 186.4L308.1 186.2L308.4 186.2L308.6 186.2L308.9 186.2L309.1 186.3L309.4 186.1L309.6 186.3L309.9 186.4L310.1 186.4L310.4 186.2L310.6 186.1L310.9 186.4L311.1 186.2L311.4 186.2L311.6 186.1L311.9 186.2L312.1 186.1L312.4 186.1L312.6 186.1L312.9 186.1L313.1 186.2L313.4 185.9L313.6 185.7L313.9 185.3L314.1 184.5L314.4 183.1L314.6 181.4L314.9 179.2L315.1 178.2L315.2 177.9L315.4 178.1L315.6 179.0L315.9 179.9L316.1 180.5L316.4 181.0L316.6 181.9L316.9 183.3L317.1 184.3L317.4 185.0L317.6 185.4L317.9 186.0L318.1 186.0L318.4 186.0L318.6 186.1L318.9 185.9L319.1 185.9L319.4 185.9L319.6 185.6L319.9 185.1L320.1 184.0L320.4 183.2L320.6 182.4L320.8 182.0L320.9 182.1L321.1 182.2L321.4 182.7L321.6 183.4L321.9 183.4L322.1 183.9L322.4 184.5L322.6 185.1L322.9 185.4L323.1 186.0L323.4 185.9L323.6 186.2L323.9 186.4L324.1 186.3L324.4 186.3L324.6 186.5L324.9 186.4L325.1 186.5L325.4 186.5L325.6 186.5L325.9 186.4L326.1 186.5L326.4 186.4L326.6 186.3L326.9 186.3L327.1 186.3L327.4 186.3L327.6 186.5L327.9 186.4L328.1 186.6L328.4 186.3L328.6 186.5L328.9 186.3L329.1 186.4L329.4 186.4L329.6 186.6L329.9 186.5L330.1 186.4L330.4 186.3L330.6 186.3L330.9 186.4L331.1 186.6L331.4 186.5L331.6 186.5L331.9 186.6L332.1 186.3L332.4 186.4L332.6 186.5L332.9 186.4L333.1 186.4L333.4 186.6L333.6 186.4L333.9 186.6L334.1 186.4L334.4 186.5L334.6 186.4L334.9 186.6L335.1 186.5L335.4 186.6L335.6 186.7L335.9 186.5L336.1 186.3L336.4 186.5L336.6 186.7L336.9 186.6L337.1 186.6L337.4 186.5L337.6 186.7L337.9 186.7L338.1 186.6L338.4 186.5L338.6 186.4L338.9 186.3L339.1 186.4L339.4 186.6L339.6 186.7L339.9 186.6L340.1 186.7L340.4 186.4L340.6 186.4L340.9 186.4L341.1 186.4L341.4 186.6L341.6 186.7L341.9 186.7L342.1 186.4L342.4 186.6L342.6 186.6L342.9 186.6L343.1 186.5L343.4 186.5L343.6 186.7L343.9 186.7L344.1 186.6L344.4 186.6L344.6 186.4L344.9 186.5L345.1 186.5L345.4 186.5L345.6 186.5L345.9 186.6L346.1 186.6L346.4 186.4L346.6 186.7L346.9 186.4L347.1 186.7L347.4 186.6L347.6 186.6L347.9 186.5L348.1 186.6L348.4 186.7L348.6 186.5L348.9 186.4L349.1 186.7L349.4 186.5L349.6 186.4L349.9 186.6L350.1 186.5L350.4 186.5L350.6 186.5L350.9 186.4L351.1 186.7L351.4 186.6L351.6 186.6L351.9 186.5L352.1 186.7" stroke="#ff0000" stroke-width="1.45"/>
<path d="M38.4 274.5L38.6 274.6L38.9 274.5L39.1 274.6L39.4 274.6L39.6 274.4L39.9 274.4L40.1 274.7L40.4 274.5L40.6 274.5L40.9 274.8L41.1 274.6L41.4 274.7L41.6 274.6L41.9 274.6L42.1 274.5L42.4 274.6L42.6 274.7L42.9 274.6L43.1 274.7L43.4 274.6L43.6 274.4L43.9 274.7L44.1 274.6L44.4 274.5L44.6 274.4L44.9 274.7L45.1 274.6L45.4 274.6L45.6 274.7L45.9 274.6L46.1 274.7L46.4 274.5L46.6 274.7L46.9 274.5L47.1 274.7L47.4 274.7L47.6 274.4L47.9 274.4L48.1 274.4L48.4 274.6L48.6 274.4L48.9 274.5L49.1 274.4L49.4 274.4L49.6 274.3L49.9 274.3L50.1 274.3L50.4 274.3L50.6 274.3L50.9 274.1L51.1 274.1L51.4 273.9L51.6 273.6L51.9 273.0L52.1 271.7L52.4 268.9L52.6 261.9L52.9 249.4L53.1 234.9L53.3 229.3L53.4 227.8L53.6 232.9L53.9 245.1L54.1 257.7L54.4 266.3L54.6 270.9L54.9 272.8L55.1 273.2L55.4 273.8L55.6 273.8L55.9 273.9L56.1 274.1L56.4 274.3L56.6 274.4L56.9 274.2L57.1 274.4L57.4 274.2L57.6 274.5L57.9 274.4L58.1 274.6L58.4 274.7L58.6 274.5L58.9 274.7L59.1 274.5L59.4 274.4L59.6 274.6L59.9 274.4L60.1 274.5L60.4 274.6L60.6 274.6L60.9 274.5L61.1 274.4L61.4 274.7L61.6 274.6L61.9 274.8L62.1 274.8L62.4 274.6L62.6 274.6L62.9 274.6L63.1 274.7L63.4 274.7L63.6 274.7L63.9 274.7L64.2 274.8L64.4 274.7L64.7 274.6L64.9 274.7L65.2 274.6L65.4 274.6L65.7 274.8L65.9 274.7L66.2 274.7L66.4 274.5L66.7 274.6L66.9 274.7L67.2 274.5L67.4 274.7L67.7 274.7L67.9 274.5L68.2 274.7L68.4 274.7L68.7 274.8L68.9 274.6L69.2 274.8L69.4 274.8L69.7 274.5L69.9 274.5L70.2 274.8L70.4 274.9L70.7 274.6L70.9 274.7L71.2 274.7L71.4 274.6L71.7 274.7L71.9 274.6L72.2 274.7L72.4 274.7L72.7 274.6L72.9 274.7L73.2 274.8L73.4 274.5L73.7 274.7L73.9 274.8L74.2 274.6L74.4 274.6L74.7 274.8L74.9 274.6L75.2 274.6L75.4 274.7L75.7 274.8L75.9 274.6L76.2 274.7L76.4 274.7L76.7 274.8L76.9 274.7L77.2 274.9L77.4 274.6L77.7 274.7L77.9 274.8L78.2 274.9L78.4 274.7L78.7 274.6L78.9 274.6L79.2 274.7L79.4 274.6L79.7 274.8L79.9 274.9L80.2 274.6L80.4 274.7L80.7 274.8L80.9 274.8L81.2 274.9L81.4 274.7L81.7 274.6L81.9 274.7L82.2 274.8L82.4 274.7L82.7 274.7L82.9 274.7L83.2 274.7L83.4 274.7L83.7 274.9L83.9 274.6L84.2 274.6L84.4 274.9L84.7 274.9L84.9 274.9L85.2 274.7L85.4 274.9L85.7 274.9L85.9 274.7L86.2 274.8L86.4 274.9L86.7 274.8L86.9 274.8L87.2 274.7L87.4 274.7L87.7 274.7L87.9 274.6L88.2 274.8L88.4 274.7L88.7 274.9L88.9 274.6L89.2 274.9L89.4 274.8L89.7 274.9L89.9 274.9L90.2 274.9L90.4 274.8L90.7 274.6L90.9 274.9L91.2 274.7L91.4 274.7L91.7 274.8L91.9 274.8L92.2 274.7L92.4 274.9L92.7 274.8L92.9 274.7L93.2 274.7L93.4 274.9L93.7 274.8L93.9 274.9L94.2 274.7L94.4 274.7L94.7 274.8L94.9 274.9L95.2 274.7L95.4 274.9L95.7 274.9L95.9 274.9L96.2 274.9L96.4 274.6L96.7 274.8L96.9 274.9L97.2 274.6L97.4 274.7L97.7 274.7L97.9 274.8L98.2 274.7L98.4 274.8L98.7 274.9L98.9 274.6L99.2 274.6L99.4 274.6L99.7 274.6L99.9 274.6L100.2 274.9L100.4 274.9L100.7 274.6L100.9 274.8L101.2 274.7L101.4 274.7L101.7 274.7L101.9 274.8L102.2 274.8L102.4 274.7L102.7 274.6L102.9 274.6L103.2 274.6L103.4 274.7L103.7 274.7L103.9 274.6L104.2 274.5L104.4 274.5L104.7 274.5L104.9 274.5L105.2 274.5L105.4 274.2L105.7 274.2L105.9 273.7L106.2 272.7L106.4 270.6L106.7 267.1L106.9 262.1L107.2 257.0L107.3 255.2L107.4 254.6L107.7 255.6L107.9 259.2L108.2 263.9L108.4 267.9L108.7 271.1L108.9 272.8L109.2 273.8L109.4 274.3L109.7 274.3L109.9 274.6L110.2 274.6L110.4 274.5L110.7 274.6L110.9 274.5L111.2 274.8L111.4 274.7L111.7 274.8L111.9 274.8L112.2 274.8L112.4 274.8L112.7 274.8L112.9 274.6L113.2 274.8L113.4 274.6L113.7 274.7L113.9 274.9L114.2 274.6L114.4 274.7L114.7 274.7L114.9 275.0L115.2 274.7L115.4 274.7L115.7 274.9L115.9 274.7L116.2 275.0L116.4 274.9L116.7 275.0L116.9 275.0L117.2 274.9L117.4 275.0L117.7 274.7L117.9 274.9L118.2 274.9L118.4 274.9L118.7 274.7L118.9 274.9L119.2 275.0L119.4 274.7L119.7 274.8L119.9 274.9L120.2 275.0L120.4 274.8L120.7 274.7L120.9 274.8L121.2 274.9L121.4 275.0L121.7 274.8L121.9 274.8L122.2 274.8L122.4 274.8L122.7 274.8L122.9 274.7L123.2 274.9L123.4 275.0L123.7 274.8L123.9 274.9L124.2 274.7L124.4 274.9L124.7 274.9L124.9 274.9L125.2 274.8L125.4 274.8L125.7 274.8L125.9 274.8L126.2 274.3L126.4 274.0L126.7 273.9L126.9 273.6L127.2 273.1L127.3 272.9L127.4 273.0L127.7 272.8L127.9 273.1L128.2 273.4L128.4 273.9L128.7 274.2L128.9 274.4L129.2 274.7L129.4 274.9L129.7 274.7L129.9 274.9L130.2 274.8L130.4 275.0L130.7 274.9L130.9 274.8L131.2 274.8L131.4 274.7L131.7 274.9L131.9 274.8L132.2 274.8L132.4 274.8L132.7 274.8L132.9 275.0L133.2 274.8L133.4 275.1L133.7 274.9L133.9 274.9L134.2 274.9L134.4 275.0L134.7 275.0L134.9 274.9L135.2 274.9L135.4 275.0L135.7 275.0L135.9 274.8L136.2 274.9L136.4 275.0L136.7 274.8L136.9 274.7L137.2 274.7L137.4 274.8L137.7 274.8L137.9 274.8L138.2 274.7L138.4 274.3L138.7 273.9L138.9 273.0L139.2 271.3L139.4 269.2L139.7 267.1L139.8 266.3L139.9 265.8L140.2 266.5L140.4 267.6L140.7 269.5L140.9 271.5L141.2 272.8L141.4 273.7L141.7 274.5L141.9 274.5L142.2 274.6L142.4 274.8L142.7 274.9L142.9 274.6L143.2 274.8L143.4 274.8L143.7 274.9L143.9 274.8L144.2 274.9L144.4 275.1L144.7 274.9L144.9 274.9L145.2 274.8L145.4 274.8L145.7 275.0L145.9 274.8L146.2 275.1L146.4 275.1L146.7 274.8L146.9 275.1L147.2 274.9L147.4 275.0L147.7 275.0L147.9 274.9L148.2 275.0L148.4 275.0L148.7 275.1L148.9 274.9L149.2 275.1L149.4 275.1L149.7 275.0L149.9 275.0L150.2 274.8L150.4 275.0L150.7 274.9L150.9 275.0L151.2 275.0L151.4 275.0L151.7 274.9L151.9 275.0L152.2 275.0L152.4 274.9L152.7 275.1L152.9 275.0L153.2 274.8L153.4 275.1L153.7 274.8L153.9 274.9L154.2 275.0L154.4 275.0L154.7 275.0L154.9 275.0L155.2 274.9L155.4 274.9L155.7 274.8L155.9 274.7L156.2 274.9L156.4 274.7L156.7 274.4L156.9 274.2L157.2 273.5L157.4 273.0L157.7 272.6L157.8 272.6L157.9 272.2L158.2 272.4L158.4 272.6L158.7 273.2L158.9 273.5L159.2 274.0L159.4 274.3L159.7 274.6L159.9 274.9L160.2 274.8L160.4 275.0L160.7 274.8L160.9 274.9L161.2 274.8L161.4 274.8L161.7 275.1L161.9 275.1L162.2 274.9L162.4 274.9L162.7 275.0L162.9 275.1L163.2 275.1L163.4 275.1L163.7 275.0L163.9 274.9L164.2 275.0L164.4 274.9L164.7 275.0L164.9 275.1L165.2 274.9L165.4 274.9L165.7 275.1L165.9 274.9L166.2 275.1L166.4 275.2L166.7 275.2L166.9 275.0L167.2 275.1L167.4 275.1L167.7 275.1L167.9 275.2L168.2 275.1L168.4 275.0L168.7 275.2L168.9 275.0L169.2 275.1L169.4 275.1L169.7 274.9L169.9 275.2L170.2 275.1L170.4 275.1L170.7 275.1L170.9 275.0L171.2 274.9L171.4 275.1L171.7 274.9L171.9 275.1L172.2 275.1L172.4 275.0L172.7 275.1L172.9 275.2L173.2 275.2L173.4 274.9L173.7 275.2L173.9 275.1L174.2 274.9L174.4 275.0L174.7 275.0L174.9 274.9L175.2 275.1L175.4 275.2L175.7 275.0L175.9 275.2L176.2 275.1L176.4 274.9L176.7 275.2L176.9 275.1L177.2 275.2L177.4 275.2L177.7 275.2L177.9 275.0L178.2 275.2L178.4 275.2L178.7 275.2L178.9 275.1L179.2 275.2L179.4 275.1L179.7 274.9L179.9 274.9L180.2 274.9L180.4 275.0L180.7 275.0L180.9 275.1L181.2 275.2L181.4 275.1L181.7 275.1L181.9 275.2L182.2 275.0L182.4 275.1L182.7 275.2L182.9 275.1L183.2 275.0L183.4 275.2L183.7 275.2L183.9 275.1L184.2 275.1L184.4 275.1L184.7 275.1L184.9 275.0L185.2 274.9L185.4 275.0L185.7 275.2L185.9 275.0L186.2 275.1L186.4 275.0L186.7 275.0L186.9 275.0L187.2 275.1L187.4 275.0L187.7 274.9L187.9 275.0L188.2 275.0L188.4 275.1L188.7 275.0L188.9 275.0L189.2 275.1L189.4 275.1L189.7 275.2L189.9 275.0L190.2 275.1L190.4 275.1L190.7 275.0L190.9 275.3L191.2 275.0L191.4 275.0L191.7 275.1L191.9 275.0L192.2 275.2L192.4 275.1L192.7 275.0L192.9 275.0L193.2 275.2L193.4 275.1L193.7 275.2L193.9 275.1L194.2 275.3L194.4 275.1L194.7 275.1L194.9 275.1L195.2 275.3L195.4 275.2L195.7 275.1L195.9 275.0L196.2 275.2L196.4 275.3L196.7 275.2L196.9 275.0L197.2 275.0L197.4 275.0L197.7 275.0L197.9 275.0L198.2 275.0L198.4 275.2L198.7 275.3L198.9 275.0L199.2 275.3L199.4 275.1L199.7 275.3L199.9 275.3L200.2 275.3L200.4 275.0L200.7 275.1L200.9 275.2L201.2 275.3L201.4 275.0L201.7 275.1L201.9 275.3L202.2 275.0L202.4 275.1L202.7 275.1L202.9 275.2L203.2 275.3L203.4 275.1L203.7 275.3L203.9 275.3L204.2 275.3L204.4 275.2L204.7 275.3L204.9 275.1L205.2 275.1L205.4 275.1L205.7 275.3L205.9 275.2L206.2 275.1L206.4 275.1L206.7 275.3L206.9 275.2L207.2 275.3L207.4 275.1L207.7 275.2L207.9 275.1L208.2 275.3L208.4 275.0L208.7 275.2L208.9 275.3L209.2 275.2L209.4 275.0L209.7 275.1L209.9 275.3L210.2 275.2L210.4 275.3L210.7 275.3L210.9 275.2L211.2 275.3L211.4 275.3L211.7 275.1L211.9 275.1L212.2 275.0L212.4 275.1L212.7 275.3L212.9 275.0L213.2 275.2L213.4 275.0L213.7 275.0L213.9 275.2L214.2 275.1L214.4 275.0L214.7 275.0L214.9 275.2L215.2 275.2L215.4 275.0L215.7 275.1L215.9 275.3L216.2 275.0L216.4 275.2L216.7 275.1L216.9 275.2L217.2 275.2L217.4 275.2L217.7 275.1L217.9 275.0L218.2 275.0L218.4 274.9L218.7 275.2L218.9 274.9L219.2 274.8L219.4 275.1L219.7 274.8L219.9 275.0L220.2 274.6L220.4 274.6L220.7 274.4L220.9 274.3L221.2 273.4L221.4 271.7L221.7 268.4L221.9 263.5L222.2 257.9L222.4 254.6L222.7 255.0L222.9 257.3L223.2 260.1L223.4 262.8L223.7 266.3L223.9 269.4L224.2 272.0L224.4 273.4L224.7 274.3L224.9 274.4L225.2 274.7L225.4 274.8L225.7 274.7L225.9 275.0L226.2 275.1L226.4 275.0L226.7 275.1L226.9 275.1L227.2 275.0L227.4 275.1L227.7 275.3L227.9 275.1L228.2 275.1L228.4 275.0L228.7 275.1L228.9 275.0L229.2 275.3L229.4 275.3L229.7 275.3L229.9 275.4L230.2 275.2L230.4 275.3L230.7 275.2L230.9 275.2L231.2 275.4L231.4 275.3L231.7 275.4L231.9 275.2L232.2 275.3L232.4 275.2L232.7 275.4L232.9 275.3L233.2 275.1L233.4 275.3L233.7 275.0L233.9 275.0L234.2 275.2L234.4 275.0L234.7 275.1L234.9 275.1L235.2 274.8L235.4 274.8L235.7 274.4L235.9 273.9L236.2 273.0L236.4 272.0L236.7 270.8L236.9 269.5L237.1 268.8L237.2 268.8L237.4 268.9L237.7 269.2L237.9 269.9L238.2 271.0L238.4 272.0L238.7 273.1L238.9 273.8L239.2 274.4L239.4 274.6L239.7 274.7L239.9 274.9L240.2 275.1L240.4 275.1L240.7 275.2L240.9 275.1L241.2 275.3L241.4 275.1L241.7 275.2L241.9 275.4L242.2 275.3L242.4 275.2L242.7 275.2L242.9 275.4L243.2 275.1L243.4 275.1L243.7 275.3L243.9 275.3L244.2 275.2L244.4 275.1L244.7 275.2L244.9 275.4L245.2 275.3L245.4 275.5L245.7 275.4L245.9 275.5L246.2 275.1L246.4 275.2L246.7 275.1L246.9 275.3L247.2 275.3L247.4 275.1L247.7 275.3L247.9 275.2L248.2 275.2L248.4 275.2L248.7 275.4L248.9 275.3L249.2 275.2L249.4 275.2L249.7 275.3L249.9 275.4L250.2 275.4L250.4 275.5L250.7 275.4L250.9 275.2L251.2 275.2L251.4 275.4L251.7 275.4L251.9 275.3L252.2 275.5L252.4 275.4L252.7 275.3L252.9 275.2L253.2 275.2L253.4 275.4L253.7 275.5L253.9 275.5L254.2 275.3L254.4 275.4L254.7 275.5L254.9 275.5L255.2 275.4L255.4 275.3L255.7 275.4L255.9 275.2L256.1 275.2L256.4 275.4L256.6 275.5L256.9 275.4L257.1 275.3L257.4 275.3L257.6 275.3L257.9 275.5L258.1 275.3L258.4 275.5L258.6 275.2L258.9 275.3L259.1 275.4L259.4 275.3L259.6 275.5L259.9 275.5L260.1 275.5L260.4 275.4L260.6 275.2L260.9 275.4L261.1 275.4L261.4 275.4L261.6 275.3L261.9 275.4L262.1 275.5L262.4 275.2L262.6 275.4L262.9 275.3L263.1 275.4L263.4 275.5L263.6 275.5L263.9 275.4L264.1 275.3L264.4 275.5L264.6 275.3L264.9 275.3L265.1 275.5L265.4 275.3L265.6 275.3L265.9 275.5L266.1 275.5L266.4 275.3L266.6 275.3L266.9 275.3L267.1 275.3L267.4 275.3L267.6 275.6L267.9 275.2L268.1 275.3L268.4 275.3L268.6 275.2L268.9 275.4L269.1 275.5L269.4 275.5L269.6 275.4L269.9 275.5L270.1 275.2L270.4 275.3L270.6 275.5L270.9 275.2L271.1 275.3L271.4 275.4L271.6 275.3L271.9 275.4L272.1 275.2L272.4 275.3L272.6 275.5L272.9 275.2L273.1 275.5L273.4 275.2L273.6 275.5L273.9 275.3L274.1 275.2L274.4 274.9L274.6 274.7L274.9 274.7L275.1 274.1L275.4 273.7L275.6 273.5L275.9 273.2L276.0 272.8L276.1 273.1L276.4 273.0L276.6 273.1L276.9 273.2L277.1 273.6L277.4 274.2L277.6 274.3L277.9 274.5L278.1 274.8L278.4 274.9L278.6 275.1L278.9 275.4L279.1 275.1L279.4 275.2L279.6 275.5L279.9 275.5L280.1 275.5L280.4 275.3L280.6 275.3L280.9 275.5L281.1 275.3L281.4 275.4L281.6 275.2L281.9 275.1L282.1 275.1L282.4 275.1L282.6 274.8L282.9 274.4L283.1 274.0L283.4 273.6L283.6 273.2L283.8 273.2L283.9 273.2L284.1 273.0L284.4 273.3L284.6 273.6L284.9 273.9L285.1 273.9L285.4 274.5L285.6 274.8L285.9 274.8L286.1 275.0L286.4 275.1L286.6 275.1L286.9 275.5L287.1 275.3L287.4 275.5L287.6 275.3L287.9 275.2L288.1 275.6L288.4 275.5L288.6 275.6L288.9 275.5L289.1 275.5L289.4 275.5L289.6 275.3L289.9 275.5L290.1 275.4L290.4 275.3L290.6 275.5L290.9 275.4L291.1 275.5L291.4 275.4L291.6 275.4L291.9 275.4L292.1 275.5L292.4 275.6L292.6 275.6L292.9 275.6L293.1 275.6L293.4 275.4L293.6 275.7L293.9 275.4L294.1 275.3L294.4 275.5L294.6 275.6L294.9 275.4L295.1 275.5L295.4 275.4L295.6 275.7L295.9 275.5L296.1 275.5L296.4 275.5L296.6 275.6L296.9 275.7L297.1 275.5L297.4 275.5L297.6 275.5L297.9 275.3L298.1 275.5L298.4 275.6L298.6 275.6L298.9 275.3L299.1 275.6L299.4 275.5L299.6 275.7L299.9 275.5L300.1 275.4L300.4 275.5L300.6 275.6L300.9 275.5L301.1 275.6L301.4 275.6L301.6 275.5L301.9 275.4L302.1 275.5L302.4 275.5L302.6 275.5L302.9 275.6L303.1 275.6L303.4 275.5L303.6 275.4L303.9 275.4L304.1 275.5L304.4 275.6L304.6 275.4L304.9 275.4L305.1 275.5L305.4 275.4L305.6 275.3L305.9 275.5L306.1 275.7L306.4 275.5L306.6 275.6L306.9 275.6L307.1 275.6L307.4 275.7L307.6 275.5L307.9 275.6L308.1 275.4L308.4 275.7L308.6 275.5L308.9 275.5L309.1 275.7L309.4 275.4L309.6 275.4L309.9 275.6L310.1 275.5L310.4 275.3L310.6 275.3L310.9 275.4L311.1 275.3L311.4 275.6L311.6 275.3L311.9 275.4L312.1 275.4L312.4 275.4L312.6 275.4L312.9 275.4L313.1 275.3L313.4 275.1L313.6 274.6L313.9 274.3L314.1 273.2L314.4 271.8L314.6 270.7L314.9 270.2L315.1 270.4L315.4 270.7L315.6 271.3L315.9 271.9L316.1 272.2L316.4 273.0L316.6 273.7L316.9 274.2L317.1 274.7L317.4 275.1L317.6 275.4L317.9 275.2L318.1 275.3L318.4 275.2L318.6 275.4L318.9 275.1L319.1 275.2L319.4 274.7L319.6 274.2L319.9 273.3L320.1 272.7L320.4 272.4L320.6 272.6L320.9 272.9L321.1 273.1L321.4 273.6L321.6 273.7L321.9 274.0L322.1 274.3L322.4 274.7L322.6 275.2L322.9 275.2L323.1 275.4L323.4 275.5L323.6 275.4L323.9 275.6L324.1 275.7L324.4 275.7L324.6 275.6L324.9 275.4L325.1 275.4L325.4 275.5L325.6 275.5L325.9 275.5L326.1 275.7L326.4 275.5L326.6 275.7L326.9 275.7L327.1 275.4L327.4 275.7L327.6 275.6L327.9 275.5L328.1 275.5L328.4 275.4L328.6 275.6L328.9 275.6L329.1 275.7L329.4 275.7L329.6 275.4L329.9 275.6L330.1 275.6L330.4 275.5L330.6 275.5L330.9 275.5L331.1 275.7L331.4 275.6L331.6 275.5L331.9 275.5L332.1 275.6L332.4 275.6L332.6 275.5L332.9 275.7L333.1 275.5L333.4 275.7L333.6 275.7L333.9 275.5L334.1 275.7L334.4 275.6L334.6 275.6L334.9 275.7L335.1 275.7L335.4 275.6L335.6 275.5L335.9 275.7L336.1 275.8L336.4 275.6L336.6 275.7L336.9 275.6L337.1 275.8L337.4 275.7L337.6 275.5L337.9 275.8L338.1 275.8L338.4 275.6L338.6 275.8L338.9 275.6L339.1 275.5L339.4 275.7L339.6 275.6L339.9 275.7L340.1 275.7L340.4 275.5L340.6 275.7L340.9 275.8L341.1 275.6L341.4 275.7L341.6 275.8L341.9 275.6L342.1 275.7L342.4 275.7L342.6 275.8L342.9 275.6L343.1 275.5L343.4 275.8L343.6 275.7L343.9 275.6L344.1 275.8L344.4 275.8L344.6 275.7L344.9 275.8L345.1 275.8L345.4 275.8L345.6 275.6L345.9 275.5L346.1 275.7L346.4 275.8L346.6 275.6L346.9 275.7L347.1 275.7L347.4 275.6L347.6 275.8L347.9 275.7L348.1 275.6L348.4 275.5L348.6 275.7L348.9 275.6L349.1 275.8L349.4 275.6L349.6 275.7L349.9 275.6L350.1 275.7L350.4 275.7L350.6 275.6L350.9 275.5L351.1 275.7L351.4 275.6L351.6 275.7L351.9 275.6L352.1 275.6" stroke="#ff0000" stroke-width="1.45"/>
<path d="M38.4 366.9L38.6 366.6L38.9 366.5L39.1 366.3L39.4 366.1L39.6 366.1L39.6 366.3L39.9 366.3L40.1 366.4L40.4 366.3L40.6 366.7L40.9 366.8L41.1 366.9L41.4 367.1L41.6 367.2L41.9 367.6L42.1 367.6L42.4 367.7L42.6 367.7L42.9 367.5L43.1 367.5L43.4 367.7L43.6 367.7L43.9 367.8L44.1 367.8L44.4 367.5L44.6 367.7L44.9 367.7L45.1 367.6L45.4 367.5L45.6 367.6L45.9 367.5L46.1 367.8L46.4 367.7L46.6 367.6L46.9 367.5L47.1 367.7L47.4 367.6L47.6 367.7L47.9 367.7L48.1 367.5L48.4 367.5L48.6 367.5L48.9 367.4L49.1 367.3L49.4 367.3L49.6 367.4L49.9 367.1L50.1 367.0L50.4 367.1L50.6 366.9L50.9 366.8L51.1 366.6L51.4 366.2L51.6 366.0L51.9 364.7L52.1 362.3L52.4 355.7L52.6 342.0L52.9 321.0L53.1 302.2L53.2 300.2L53.4 299.2L53.6 312.0L53.9 331.9L54.1 348.6L54.4 358.6L54.6 363.3L54.9 365.3L55.1 366.1L55.4 366.3L55.6 366.7L55.9 366.8L56.1 367.1L56.4 367.0L56.6 367.3L56.9 367.5L57.1 367.6L57.4 367.5L57.6 367.7L57.9 367.4L58.1 367.5L58.4 367.8L58.6 367.7L58.9 367.6L59.1 367.8L59.4 367.7L59.6 367.8L59.9 367.6L60.1 367.6L60.4 367.7L60.6 367.6L60.9 367.7L61.1 367.9L61.4 367.7L61.6 367.6L61.9 367.6L62.1 367.6L62.4 367.9L62.6 367.7L62.9 367.7L63.1 367.6L63.4 368.0L63.6 367.8L63.9 367.7L64.2 367.6L64.4 367.6L64.7 367.7L64.9 367.9L65.2 367.7L65.4 367.7L65.7 367.8L65.9 367.7L66.2 368.0L66.4 367.7L66.7 367.8L66.9 367.9L67.2 367.8L67.4 368.0L67.7 367.8L67.9 367.8L68.2 367.8L68.4 367.7L68.7 367.8L68.9 367.8L69.2 368.0L69.4 368.0L69.7 367.9L69.9 367.7L70.2 367.8L70.4 367.8L70.7 367.8L70.9 367.8L71.2 368.0L71.4 367.7L71.7 367.7L71.9 368.0L72.2 367.9L72.4 368.1L72.7 367.9L72.9 368.0L73.2 367.9L73.4 368.0L73.7 368.0L73.9 367.9L74.2 367.8L74.4 367.8L74.7 368.0L74.9 368.0L75.2 368.1L75.4 367.8L75.7 368.0L75.9 368.0L76.2 368.0L76.4 368.0L76.7 367.9L76.9 368.0L77.2 368.0L77.4 367.8L77.7 368.1L77.9 368.1L78.2 367.8L78.4 368.1L78.7 368.1L78.9 368.0L79.2 367.8L79.4 368.1L79.7 367.8L79.9 368.1L80.2 368.0L80.4 367.8L80.7 367.8L80.9 368.0L81.2 368.0L81.4 368.0L81.7 368.1L81.9 367.8L82.2 367.8L82.4 368.1L82.7 367.8L82.9 368.1L83.2 367.8L83.4 368.1L83.7 368.1L83.9 368.1L84.2 368.0L84.4 368.1L84.7 367.9L84.9 368.0L85.2 367.9L85.4 368.1L85.7 368.1L85.9 368.0L86.2 368.0L86.4 367.8L86.7 367.8L86.9 368.0L87.2 368.0L87.4 368.1L87.7 368.0L87.9 367.9L88.2 367.9L88.4 368.1L88.7 368.0L88.9 367.8L89.2 368.1L89.4 368.1L89.7 367.8L89.9 368.0L90.2 368.0L90.4 368.1L90.7 367.9L90.9 367.9L91.2 368.0L91.4 368.2L91.7 367.9L91.9 367.9L92.2 368.0L92.4 368.1L92.7 368.0L92.9 368.0L93.2 368.1L93.4 368.1L93.7 367.9L93.9 368.1L94.2 367.9L94.4 367.9L94.7 368.1L94.9 368.0L95.2 368.1L95.4 367.9L95.7 368.2L95.9 367.9L96.2 367.9L96.4 368.0L96.7 368.0L96.9 368.0L97.2 368.2L97.4 368.1L97.7 367.8L97.9 368.0L98.2 368.0L98.4 368.0L98.7 368.1L98.9 368.0L99.2 367.9L99.4 367.9L99.7 368.1L99.9 368.0L100.2 368.1L100.4 368.2L100.7 368.0L100.9 368.1L101.2 368.0L101.4 367.9L101.7 368.1L101.9 368.0L102.2 368.1L102.4 367.9L102.7 368.1L102.9 368.0L103.2 368.0L103.4 367.9L103.7 367.8L103.9 368.0L104.2 367.8L104.4 367.8L104.7 367.6L104.9 367.5L105.2 367.5L105.4 367.6L105.7 367.2L105.9 367.2L106.2 366.6L106.4 365.5L106.7 362.9L106.9 358.4L107.2 351.4L107.4 344.2L107.6 340.4L107.7 339.7L107.9 340.5L108.2 344.8L108.4 351.2L108.7 357.3L108.9 362.0L109.2 365.1L109.4 366.5L109.7 367.1L109.9 367.4L110.2 367.7L110.4 367.5L110.7 367.7L110.9 367.8L111.2 367.8L111.4 368.0L111.7 368.0L111.9 368.1L112.2 367.8L112.4 368.0L112.7 368.1L112.9 368.1L113.2 368.1L113.4 368.2L113.7 368.0L113.9 368.2L114.2 368.0L114.4 368.1L114.7 368.2L114.9 368.2L115.2 368.0L115.4 368.0L115.7 368.0L115.9 368.2L116.2 368.3L116.4 368.3L116.7 368.1L116.9 368.1L117.2 368.2L117.4 368.1L117.7 368.1L117.9 368.0L118.2 368.0L118.4 368.2L118.7 368.2L118.9 368.2L119.2 368.1L119.4 368.3L119.7 368.2L119.9 368.0L120.2 368.0L120.4 368.3L120.7 368.3L120.9 368.3L121.2 368.2L121.4 368.1L121.7 368.0L121.9 368.1L122.2 368.1L122.4 368.3L122.7 368.3L122.9 368.3L123.2 368.0L123.4 368.1L123.7 368.1L123.9 368.3L124.2 368.0L124.4 368.2L124.7 368.2L124.9 368.1L125.2 368.3L125.4 368.0L125.7 368.0L125.9 367.8L126.2 367.5L126.4 367.2L126.7 366.8L126.9 366.2L127.2 365.6L127.4 365.5L127.7 365.2L127.9 365.7L128.2 366.1L128.4 366.6L128.7 367.1L128.9 367.6L129.2 367.9L129.4 368.0L129.7 368.1L129.9 368.2L130.2 368.2L130.4 368.2L130.7 368.2L130.9 368.1L131.2 368.3L131.4 368.2L131.7 368.0L131.9 368.1L132.2 368.3L132.4 368.1L132.7 368.2L132.9 368.3L133.2 368.3L133.4 368.2L133.7 368.2L133.9 368.2L134.2 368.0L134.4 368.3L134.7 368.0L134.9 368.4L135.2 368.1L135.4 368.1L135.7 368.3L135.9 368.3L136.2 368.1L136.4 368.2L136.7 368.2L136.9 368.2L137.2 368.0L137.4 368.2L137.7 368.2L137.9 368.1L138.2 368.1L138.4 368.0L138.7 367.5L138.9 367.0L139.2 365.6L139.4 363.1L139.7 359.9L139.9 357.4L140.0 356.9L140.2 356.3L140.4 357.4L140.7 359.4L140.9 361.8L141.2 364.0L141.4 366.0L141.7 366.9L141.9 367.7L142.2 367.9L142.4 367.9L142.7 368.2L142.9 368.2L143.2 368.1L143.4 368.3L143.7 368.3L143.9 368.4L144.2 368.4L144.4 368.3L144.7 368.3L144.9 368.3L145.2 368.3L145.4 368.5L145.7 368.2L145.9 368.1L146.2 368.4L146.4 368.3L146.7 368.3L146.9 368.3L147.2 368.2L147.4 368.2L147.7 368.2L147.9 368.4L148.2 368.5L148.4 368.4L148.7 368.2L148.9 368.5L149.2 368.5L149.4 368.3L149.7 368.2L149.9 368.5L150.2 368.4L150.4 368.4L150.7 368.2L150.9 368.4L151.2 368.2L151.4 368.3L151.7 368.2L151.9 368.3L152.2 368.5L152.4 368.4L152.7 368.5L152.9 368.3L153.2 368.3L153.4 368.4L153.7 368.2L153.9 368.3L154.2 368.5L154.4 368.4L154.7 368.4L154.9 368.2L155.2 368.3L155.4 368.4L155.7 368.3L155.9 368.1L156.2 367.8L156.4 367.5L156.7 367.3L156.9 366.7L157.2 365.6L157.4 364.9L157.7 364.2L157.7 364.2L157.9 364.1L158.2 364.2L158.4 364.8L158.7 365.5L158.9 366.3L159.2 366.8L159.4 367.4L159.7 367.8L159.9 368.2L160.2 368.1L160.4 368.4L160.7 368.2L160.9 368.5L161.2 368.2L161.4 368.2L161.7 368.3L161.9 368.5L162.2 368.4L162.4 368.5L162.7 368.4L162.9 368.3L163.2 368.4L163.4 368.4L163.7 368.6L163.9 368.3L164.2 368.3L164.4 368.6L164.7 368.3L164.9 368.6L165.2 368.4L165.4 368.5L165.7 368.5L165.9 368.6L166.2 368.3L166.4 368.6L166.7 368.3L166.9 368.5L167.2 368.3L167.4 368.6L167.7 368.4L167.9 368.4L168.2 368.3L168.4 368.4L168.7 368.4L168.9 368.7L169.2 368.5L169.4 368.4L169.7 368.7L169.9 368.4L170.2 368.4L170.4 368.7L170.7 368.7L170.9 368.6L171.2 368.7L171.4 368.3L171.7 368.6L171.9 368.6L172.2 368.6L172.4 368.6L172.7 368.4L172.9 368.4L173.2 368.4L173.4 368.5L173.7 368.5L173.9 368.5L174.2 368.5L174.4 368.6L174.7 368.6L174.9 368.6L175.2 368.4L175.4 368.4L175.7 368.4L175.9 368.4L176.2 368.6L176.4 368.4L176.7 368.6L176.9 368.5L177.2 368.5L177.4 368.6L177.7 368.7L177.9 368.4L178.2 368.5L178.4 368.7L178.7 368.4L178.9 368.4L179.2 368.4L179.4 368.7L179.7 368.6L179.9 368.7L180.2 368.5L180.4 368.4L180.7 368.5L180.9 368.6L181.2 368.5L181.4 368.4L181.7 368.5L181.9 368.5L182.2 368.5L182.4 368.5L182.7 368.4L182.9 368.4L183.2 368.7L183.4 368.7L183.7 368.5L183.9 368.4L184.2 368.5L184.4 368.6L184.7 368.7L184.9 368.6L185.2 368.8L185.4 368.6L185.7 368.5L185.9 368.6L186.2 368.6L186.4 368.6L186.7 368.7L186.9 368.4L187.2 368.6L187.4 368.7L187.7 368.5L187.9 368.4L188.2 368.5L188.4 368.5L188.7 368.6L188.9 368.5L189.2 368.7L189.4 368.5L189.7 368.6L189.9 368.7L190.2 368.6L190.4 368.8L190.7 368.8L190.9 368.5L191.2 368.6L191.4 368.6L191.7 368.6L191.9 368.6L192.2 368.8L192.4 368.5L192.7 368.6L192.9 368.5L193.2 368.8L193.4 368.7L193.7 368.8L193.9 368.5L194.2 368.7L194.4 368.7L194.7 368.5L194.9 368.8L195.2 368.8L195.4 368.5L195.7 368.8L195.9 368.7L196.2 368.7L196.4 368.7L196.7 368.6L196.9 368.5L197.2 368.6L197.4 368.8L197.7 368.5L197.9 368.6L198.2 368.6L198.4 368.7L198.7 368.8L198.9 368.8L199.2 368.6L199.4 368.6L199.7 368.5L199.9 368.7L200.2 368.8L200.4 368.8L200.7 368.5L200.9 368.6L201.2 368.5L201.4 368.6L201.7 368.8L201.9 368.6L202.2 368.8L202.4 368.8L202.7 368.8L202.9 368.6L203.2 368.8L203.4 368.8L203.7 368.9L203.9 368.5L204.2 368.5L204.4 368.6L204.7 368.7L204.9 368.7L205.2 368.5L205.4 368.7L205.7 368.8L205.9 368.7L206.2 368.7L206.4 368.7L206.7 368.8L206.9 368.5L207.2 368.7L207.4 368.6L207.7 368.6L207.9 368.8L208.2 368.6L208.4 368.6L208.7 368.6L208.9 368.7L209.2 368.6L209.4 368.8L209.7 368.6L209.9 368.9L210.2 368.6L210.4 368.8L210.7 368.7L210.9 368.7L211.2 368.6L211.4 368.7L211.7 368.8L211.9 368.7L212.2 368.7L212.4 368.6L212.7 368.8L212.9 368.6L213.2 368.7L213.4 368.8L213.7 368.7L213.9 368.7L214.2 368.7L214.4 368.6L214.7 368.9L214.9 368.8L215.2 368.8L215.4 368.8L215.7 368.7L215.9 368.6L216.2 368.6L216.4 368.6L216.7 368.6L216.9 368.6L217.2 368.5L217.4 368.6L217.7 368.5L217.9 368.5L218.2 368.6L218.4 368.5L218.7 368.6L218.9 368.6L219.2 368.4L219.4 368.5L219.7 368.2L219.9 368.0L220.2 368.2L220.4 367.6L220.7 367.2L220.9 366.6L221.2 364.3L221.4 360.4L221.7 354.0L221.9 346.2L222.2 340.7L222.2 340.5L222.4 340.4L222.7 343.4L222.9 347.0L223.2 350.8L223.4 355.3L223.7 359.9L223.9 363.8L224.2 365.9L224.4 367.1L224.7 367.6L224.9 368.2L225.2 368.2L225.4 368.4L225.7 368.4L225.9 368.6L226.2 368.4L226.4 368.5L226.7 368.6L226.9 368.4L227.2 368.6L227.4 368.7L227.7 368.7L227.9 368.7L228.2 368.9L228.4 368.7L228.7 368.8L228.9 368.7L229.2 368.6L229.4 368.7L229.7 368.6L229.9 368.6L230.2 368.7L230.4 368.6L230.7 368.7L230.9 368.8L231.2 368.9L231.4 368.9L231.7 368.7L231.9 368.8L232.2 368.9L232.4 368.7L232.7 368.9L232.9 368.6L233.2 368.9L233.4 368.9L233.7 368.9L233.9 368.8L234.2 368.8L234.4 368.6L234.7 368.7L234.9 368.7L235.2 368.5L235.4 368.3L235.7 368.1L235.9 367.3L236.2 366.4L236.4 365.0L236.7 363.7L236.9 362.0L237.2 360.9L237.2 360.6L237.4 360.4L237.7 360.9L237.9 361.8L238.2 362.7L238.4 364.0L238.7 365.3L238.9 366.5L239.2 367.1L239.4 368.0L239.7 368.1L239.9 368.5L240.2 368.7L240.4 368.6L240.7 368.8L240.9 368.7L241.2 368.6L241.4 368.7L241.7 368.7L241.9 368.9L242.2 368.9L242.4 368.9L242.7 369.0L242.9 369.0L243.2 369.0L243.4 369.0L243.7 369.0L243.9 369.0L244.2 368.8L244.4 368.9L244.7 369.0L244.9 369.0L245.2 369.1L245.4 369.0L245.7 369.0L245.9 368.8L246.2 369.0L246.4 368.8L246.7 369.0L246.9 368.8L247.2 368.8L247.4 369.1L247.7 369.1L247.9 368.9L248.2 368.8L248.4 369.1L248.7 369.0L248.9 368.8L249.2 369.1L249.4 369.1L249.7 369.0L249.9 368.9L250.2 368.8L250.4 368.8L250.7 368.9L250.9 369.0L251.2 369.0L251.4 368.9L251.7 369.1L251.9 368.8L252.2 369.0L252.4 368.9L252.7 368.8L252.9 368.9L253.2 369.1L253.4 368.9L253.7 368.8L253.9 369.0L254.2 368.9L254.4 369.0L254.7 369.0L254.9 369.1L255.2 369.1L255.4 368.9L255.7 369.0L255.9 368.9L256.1 368.9L256.4 368.9L256.6 369.1L256.9 368.9L257.1 369.1L257.4 369.1L257.6 369.0L257.9 368.9L258.1 368.9L258.4 369.0L258.6 369.0L258.9 368.9L259.1 369.1L259.4 369.1L259.6 369.2L259.9 369.2L260.1 369.1L260.4 369.1L260.6 369.1L260.9 369.0L261.1 369.1L261.4 369.2L261.6 368.9L261.9 368.9L262.1 368.9L262.4 369.0L262.6 369.2L262.9 369.1L263.1 369.2L263.4 369.0L263.6 369.1L263.9 369.0L264.1 369.1L264.4 369.0L264.6 368.9L264.9 369.0L265.1 369.1L265.4 369.2L265.6 369.0L265.9 369.2L266.1 369.2L266.4 368.9L266.6 369.2L266.9 369.2L267.1 369.2L267.4 369.1L267.6 369.0L267.9 369.1L268.1 369.1L268.4 369.1L268.6 368.9L268.9 369.2L269.1 369.1L269.4 368.9L269.6 369.0L269.9 368.9L270.1 369.0L270.4 368.9L270.6 369.1L270.9 369.0L271.1 369.2L271.4 369.1L271.6 368.9L271.9 369.1L272.1 369.0L272.4 368.9L272.6 369.1L272.9 368.8L273.1 368.9L273.4 368.9L273.6 368.6L273.9 368.5L274.1 368.3L274.4 367.6L274.6 367.1L274.9 366.3L275.1 365.9L275.4 365.5L275.6 365.2L275.9 365.6L276.1 365.7L276.4 366.0L276.6 366.6L276.9 367.3L277.1 367.7L277.4 368.1L277.6 368.3L277.9 368.5L278.1 368.8L278.4 368.9L278.6 369.1L278.9 369.0L279.1 368.9L279.4 369.2L279.6 369.1L279.9 369.1L280.1 369.1L280.4 369.0L280.6 368.9L280.9 368.9L281.1 369.1L281.4 369.1L281.6 369.1L281.9 369.1L282.1 368.8L282.4 368.6L282.6 368.5L282.9 367.7L283.1 367.3L283.4 366.7L283.6 366.0L283.9 365.5L284.0 365.3L284.1 365.3L284.4 365.3L284.6 365.6L284.9 365.9L285.1 366.4L285.4 367.0L285.6 367.5L285.9 367.8L286.1 368.3L286.4 368.7L286.6 368.7L286.9 368.8L287.1 369.0L287.4 369.1L287.6 368.9L287.9 369.2L288.1 369.0L288.4 369.3L288.6 369.0L288.9 369.3L289.1 369.0L289.4 369.2L289.6 369.1L289.9 369.3L290.1 369.3L290.4 369.0L290.6 369.0L290.9 369.3L291.1 369.2L291.4 369.2L291.6 369.1L291.9 369.2L292.1 369.2L292.4 369.2L292.6 369.1L292.9 369.2L293.1 369.4L293.4 369.3L293.6 369.3L293.9 369.4L294.1 369.2L294.4 369.2L294.6 369.3L294.9 369.1L295.1 369.3L295.4 369.1L295.6 369.3L295.9 369.2L296.1 369.3L296.4 369.1L296.6 369.3L296.9 369.4L297.1 369.1L297.4 369.3L297.6 369.2L297.9 369.3L298.1 369.4L298.4 369.1L298.6 369.2L298.9 369.3L299.1 369.4L299.4 369.4L299.6 369.1L299.9 369.1L300.1 369.2L300.4 369.4L300.6 369.4L300.9 369.3L301.1 369.4L301.4 369.4L301.6 369.4L301.9 369.3L302.1 369.2L302.4 369.4L302.6 369.4L302.9 369.4L303.1 369.2L303.4 369.1L303.6 369.2L303.9 369.2L304.1 369.2L304.4 369.1L304.6 369.3L304.9 369.3L305.1 369.2L305.4 369.1L305.6 369.3L305.9 369.1L306.1 369.4L306.4 369.2L306.6 369.4L306.9 369.2L307.1 369.2L307.4 369.4L307.6 369.3L307.9 369.3L308.1 369.4L308.4 369.2L308.6 369.4L308.9 369.3L309.1 369.2L309.4 369.2L309.6 369.2L309.9 369.3L310.1 369.2L310.4 369.3L310.6 369.3L310.9 369.4L311.1 369.3L311.4 369.1L311.6 369.2L311.9 369.2L312.1 369.3L312.4 369.1L312.6 369.0L312.9 369.0L313.1 368.6L313.4 368.2L313.6 367.4L313.9 365.9L314.1 364.3L314.4 362.2L314.6 360.9L314.7 360.9L314.9 361.0L315.1 362.1L315.4 363.0L315.6 363.5L315.9 364.1L316.1 365.0L316.4 366.1L316.6 367.2L316.9 367.9L317.1 368.6L317.4 368.9L317.6 369.0L317.9 369.1L318.1 369.1L318.4 368.8L318.6 368.9L318.9 368.2L319.1 367.5L319.4 366.6L319.6 365.5L319.9 364.7L320.0 364.7L320.1 364.6L320.4 365.1L320.6 365.7L320.9 366.3L321.1 366.3L321.4 366.8L321.6 367.4L321.9 367.9L322.1 368.5L322.4 368.8L322.6 369.0L322.9 369.2L323.1 369.3L323.4 369.3L323.6 369.3L323.9 369.4L324.1 369.3L324.4 369.2L324.6 369.4L324.9 369.3L325.1 369.5L325.4 369.2L325.6 369.4L325.9 369.3L326.1 369.4L326.4 369.5L326.6 369.5L326.9 369.4L327.1 369.6L327.4 369.3L327.6 369.6L327.9 369.4L328.1 369.5L328.4 369.3L328.6 369.3L328.9 369.3L329.1 369.5L329.4 369.3L329.6 369.5L329.9 369.3L330.1 369.5L330.4 369.6L330.6 369.5L330.9 369.6L331.1 369.6L331.4 369.6L331.6 369.3L331.9 369.5L332.1 369.4L332.4 369.4L332.6 369.6L332.9 369.6L333.1 369.4L333.4 369.4L333.6 369.3L333.9 369.6L334.1 369.6L334.4 369.3L334.6 369.4L334.9 369.4L335.1 369.7L335.4 369.3L335.6 369.5L335.9 369.6L336.1 369.4L336.4 369.6L336.6 369.4L336.9 369.5L337.1 369.5L337.4 369.4L337.6 369.6L337.9 369.5L338.1 369.7L338.4 369.5L338.6 369.7L338.9 369.6L339.1 369.4L339.4 369.3L339.6 369.7L339.9 369.6L340.1 369.6L340.4 369.6L340.6 369.5L340.9 369.6L341.1 369.6L341.4 369.4L341.6 369.5L341.9 369.7L342.1 369.6L342.4 369.6L342.6 369.4L342.9 369.5L343.1 369.5L343.4 369.6L343.6 369.7L343.9 369.5L344.1 369.6L344.4 369.6L344.6 369.6L344.9 369.6L345.1 369.5L345.4 369.5L345.6 369.7L345.9 369.5L346.1 369.6L346.4 369.5L346.6 369.7L346.9 369.5L347.1 369.5L347.4 369.5L347.6 369.7L347.9 369.7L348.1 369.5L348.4 369.5L348.6 369.7L348.9 369.6L349.1 369.5L349.4 369.4L349.6 369.7L349.9 369.6L350.1 369.7L350.4 369.4L350.6 369.6L350.9 369.5L351.1 369.6L351.4 369.5L351.6 369.5L351.9 369.6L352.1 369.5" stroke="#0000ff" stroke-width="1.45"/>
</g>
<g stroke="#000" stroke-width="1.35" fill="none">
<line x1="37.8" y1="12.1" x2="352.8" y2="12.1" stroke="#2a2a2a" stroke-width="1.4"/>
<line x1="37.8" y1="11.4" x2="37.8" y2="377.3"/>
<line x1="352.8" y1="11.4" x2="352.8" y2="377.3"/>
<line x1="37.2" y1="377.4" x2="353.4" y2="377.4"/>
<path d="M69.3 377V372.2M132.2 377V372.2M195.3 377V372.2M258.2 377V372.2M321.1 377V372.2M100.7 377V374.3M163.7 377V374.3M226.6 377V374.3M289.6 377V374.3"/>
</g>
<g class="sans" font-size="11.2" fill="#000" stroke="#000" stroke-width="0.4">
<text x="61.8" y="391" textLength="15.2" lengthAdjust="spacingAndGlyphs">30</text>
<text x="124.6" y="391" textLength="15.2" lengthAdjust="spacingAndGlyphs">40</text>
<text x="187.6" y="391" textLength="15.2" lengthAdjust="spacingAndGlyphs">50</text>
<text x="250.5" y="391" textLength="15.2" lengthAdjust="spacingAndGlyphs">60</text>
<text x="313.3" y="391" textLength="15.2" lengthAdjust="spacingAndGlyphs">70</text>
</g>
<text x="145.5" y="410.6" font-size="16.5" class="b" textLength="85" lengthAdjust="spacingAndGlyphs">2<tspan font-weight="normal">θ</tspan> (degree)</text>
<text transform="translate(20.7 258.4) rotate(-90)" font-size="17.4" class="b" textLength="147.5" lengthAdjust="spacingAndGlyphs">Intensity (arb. unit)</text>
<g class="b" font-size="13.2" fill="#111">
<text x="254.6" y="49.1" textLength="92.8" lengthAdjust="spacingAndGlyphs">24 h ball-milled</text>
<text x="254.3" y="139.7" textLength="92.8" lengthAdjust="spacingAndGlyphs">12 h ball-milled</text>
<text x="259.8" y="224.6" textLength="86.8" lengthAdjust="spacingAndGlyphs">6 h ball-milled</text>
</g>
<text x="317" y="321.2" font-size="13.3" fill="#111" stroke="#111" stroke-width="0.45" textLength="27.6" lengthAdjust="spacingAndGlyphs">TiO<tspan font-size="9" dy="2.4">2</tspan></text>
<g class="b" font-size="12.8" fill="#111">
<text transform="translate(57.1 222.0) rotate(-90)" textLength="33.2" lengthAdjust="spacingAndGlyphs">(1 1 0)</text>
<text transform="translate(111.2 249.6) rotate(-90)" textLength="33.2" lengthAdjust="spacingAndGlyphs">(1 0 1)</text>
<text transform="translate(129.7 267.5) rotate(-90)" textLength="33.2" lengthAdjust="spacingAndGlyphs">(2 0 0)</text>
<text transform="translate(146.0 261.7) rotate(-90)" textLength="33.2" lengthAdjust="spacingAndGlyphs">(1 1 1)</text>
<text transform="translate(163.4 268.2) rotate(-90)" textLength="33.2" lengthAdjust="spacingAndGlyphs">(2 1 0)</text>
<text transform="translate(225.7 251.2) rotate(-90)" textLength="33.2" lengthAdjust="spacingAndGlyphs">(2 1 1)</text>
<text transform="translate(241.5 265.2) rotate(-90)" textLength="33.2" lengthAdjust="spacingAndGlyphs">(2 2 0)</text>
<text transform="translate(277.5 268.6) rotate(-90)" textLength="33.2" lengthAdjust="spacingAndGlyphs">(0 0 2)</text>
<text transform="translate(289.5 271.0) rotate(-90)" textLength="33.2" lengthAdjust="spacingAndGlyphs">(3 1 0)</text>
<text transform="translate(317.4 268.6) rotate(-90)" textLength="33.2" lengthAdjust="spacingAndGlyphs">(3 0 1)</text>
<text transform="translate(329.7 271.0) rotate(-90)" textLength="33.2" lengthAdjust="spacingAndGlyphs">(1 1 2)</text>
</g>
<text x="166.8" y="460.2" font-size="18.2" fill="#111">(<tspan class="b">a</tspan>)</text>

<!-- ================= (b) ================= -->
<g fill="none" stroke-linejoin="round" stroke-linecap="round">
<path d="M430.8 56.9L431.0 56.9L431.2 56.9L431.5 56.7L431.8 56.9L432.0 56.9L432.3 56.8L432.7 56.9L433.0 56.9L433.3 57.0L433.7 56.9L434.1 56.9L434.4 57.1L434.8 56.9L435.2 56.9L435.6 56.9L436.1 56.9L436.5 56.9L436.9 56.7L437.4 56.9L437.8 56.9L438.3 56.8L438.8 56.9L439.2 56.9L439.7 56.9L440.2 56.9L440.7 56.9L441.1 56.8L441.6 56.9L442.1 56.9L442.6 57.0L443.1 56.8L443.6 56.8L444.0 57.0L444.5 56.8L445.0 56.8L445.4 56.8L445.7 56.8L446.1 56.8L446.5 56.8L446.9 56.8L447.3 56.7L447.7 56.9L448.1 56.7L448.5 56.7L449.0 56.7L449.4 56.7L449.8 56.7L450.3 56.5L450.7 56.7L451.2 56.7L451.6 56.8L452.1 56.6L452.5 56.6L453.0 56.8L453.4 56.6L453.9 56.6L454.3 56.4L454.8 56.6L455.2 56.5L455.7 56.6L456.1 56.5L456.6 56.5L457.0 56.4L457.4 56.5L457.9 56.4L458.3 56.2L458.7 56.4L459.1 56.4L459.5 56.2L459.9 56.4L460.3 56.3L460.7 56.2L461.1 56.3L461.5 56.3L461.8 56.4L462.2 56.2L462.5 56.2L462.8 56.1L463.1 56.2L463.4 56.1L463.7 55.9L464.0 56.1L464.7 56.0L465.4 55.8L466.0 55.9L466.5 55.8L466.9 55.8L467.3 55.6L467.6 55.5L467.9 55.4L468.2 55.3L468.4 55.2L468.7 55.1L468.9 55.0L469.2 54.9L469.5 54.7L469.8 54.6L470.2 54.5L470.6 54.2L471.0 54.3L471.4 54.2L471.7 53.8L472.1 53.9L472.5 53.8L472.9 53.6L473.3 53.6L473.7 53.5L474.1 53.1L474.5 53.2L474.8 53.0L475.2 52.7L475.6 52.6L476.0 52.4L476.4 52.3L476.7 52.0L477.0 51.8L477.3 51.5L477.7 51.3L478.0 51.0L478.3 50.7L478.6 50.5L478.9 50.2L479.2 49.9L479.5 49.6L479.9 49.3L480.2 48.9L480.5 48.7L480.8 48.4L481.1 48.0L481.4 47.8L481.8 47.5L482.1 47.4L482.4 47.0L482.7 46.8L483.1 46.6L483.4 46.3L483.8 46.1L484.2 45.8L484.5 45.6L484.9 45.4L485.3 45.2L485.6 45.0L486.0 44.8L486.4 44.6L486.7 44.4L487.1 44.2L487.4 43.9L487.8 43.8L488.2 43.7L488.5 43.7L488.9 43.3L489.3 43.1L489.7 42.8L490.1 42.7L490.5 42.5L490.9 42.5L491.3 42.1L491.7 41.9L492.1 41.9L492.5 41.6L492.9 41.4L493.3 41.4L493.7 41.1L494.1 41.0L494.4 40.8L494.8 40.8L495.1 40.8L495.6 40.8L496.0 40.9L496.4 41.0L496.7 41.4L497.0 41.4L497.4 41.6L497.7 41.7L498.1 42.1L498.5 42.2L499.0 42.3L499.4 42.5L499.7 42.6L500.1 42.8L500.6 42.8L501.0 42.9L501.5 42.8L501.9 43.0L502.4 43.1L502.8 43.2L503.3 43.2L503.7 43.3L504.2 43.2L504.6 43.3L504.9 43.3L505.3 43.5L505.8 43.2L506.2 43.0L506.6 42.6L507.0 42.4L507.4 42.1L507.7 41.6L508.1 41.6L508.4 41.4L508.8 41.4L509.2 41.3L509.5 41.4L509.8 41.5L510.1 41.7L510.4 41.9L510.7 42.2L511.0 42.4L511.3 42.7L511.6 43.0L511.9 43.3L512.2 43.6L512.5 44.1L512.9 44.3L513.2 44.6L513.5 44.9L513.8 45.2L514.1 45.5L514.4 45.7L514.7 46.1L515.0 46.4L515.3 46.5L515.7 47.0L516.0 47.4L516.3 47.7L516.6 48.0L516.9 48.3L517.2 48.5L517.5 48.9L517.8 49.2L518.0 49.5L518.3 49.7L518.5 49.9L519.0 50.4L519.4 50.6L519.8 50.8L520.1 51.0L520.4 51.2L520.7 51.4L521.1 51.5L521.4 51.9L521.8 52.1L522.1 52.5L522.4 53.0L522.5 53.3L522.6 53.7L522.7 54.1L522.8 54.6L522.9 55.1L523.0 55.6L523.1 56.1L523.2 56.7L523.3 57.0L523.4 57.4L523.5 57.6L523.6 58.0L524.0 58.5L524.5 58.6L525.0 58.6L525.5 58.6L526.0 58.2L526.5 57.9L526.9 57.7L527.4 58.1L527.5 58.2L527.6 58.4L527.7 58.5L527.9 58.9L528.0 59.1L528.1 59.6L528.2 59.7L528.3 60.1L528.4 60.6L528.6 60.8L528.7 61.3L528.8 61.6L528.9 62.3L529.0 62.8L529.1 63.6L529.2 64.0L529.3 64.7L529.3 65.0L529.4 65.3L529.4 65.6L529.4 65.9L529.5 66.2L529.5 66.6L529.6 66.9L529.6 67.3L529.6 67.6L529.7 68.2L529.7 68.3L529.7 68.7L529.8 69.1L529.8 69.5L529.8 69.9L529.8 70.3L529.9 70.7L529.9 71.1L529.9 71.4L530.0 71.9L530.0 72.4L530.0 72.9L530.1 73.2L530.1 73.7L530.1 74.1L530.1 74.5L530.2 75.0L530.2 75.4L530.2 75.9L530.3 76.3L530.3 76.7L530.3 77.2L530.3 77.7L530.4 78.0L530.4 78.6L530.4 79.1L530.5 79.7L530.5 80.0L530.5 80.4L530.5 81.0L530.6 81.3L530.6 81.8L530.6 82.4L530.6 82.5L530.7 82.9L530.7 83.5L530.7 83.7L530.7 84.1L530.8 84.6L530.8 84.9L530.8 85.3L530.8 85.9L530.9 86.2L530.9 86.6L530.9 87.1L530.9 87.4L530.9 87.9L531.0 88.4L531.0 88.7L531.0 89.2L531.0 89.8L531.1 90.1L531.1 90.5L531.1 90.8L531.1 91.4L531.1 91.8L531.2 92.4L531.2 92.7L531.2 93.1L531.2 93.5L531.2 94.0L531.3 94.4L531.3 94.8L531.3 95.3L531.3 95.7L531.3 96.3L531.4 96.5L531.4 97.0L531.4 97.2L531.4 97.8L531.5 98.2L531.5 98.6L531.5 98.9L531.5 99.3L531.5 99.6L531.5 100.1L531.6 100.4L531.6 100.9L531.6 101.1L531.6 101.4L531.6 101.8L531.7 102.1L531.7 102.4L531.7 102.9L531.7 103.3L531.8 104.0L531.8 104.8L531.8 105.3L531.9 105.9L531.9 106.6L531.9 107.2L532.0 107.8L532.0 108.1L532.0 108.9L532.1 109.4L532.1 110.0L532.1 110.4L532.2 110.8L532.2 111.1L532.2 111.6L532.3 111.9L532.3 112.4L532.3 112.4L532.4 112.6L532.4 112.8L532.4 112.7L532.5 112.7L532.5 112.5L532.5 112.5L532.5 112.4L532.6 112.1L532.6 112.0L532.6 111.7L532.7 111.5L532.7 111.1L532.7 110.8L532.7 110.6L532.8 110.1L532.8 109.6L532.8 109.4L532.8 108.7L532.9 108.3L532.9 107.8L532.9 107.3L533.0 106.8L533.0 106.1L533.0 105.7L533.1 105.2L533.1 104.8L533.1 104.2L533.1 103.6L533.2 102.9L533.2 102.6L533.2 102.1L533.3 101.7L533.3 101.1L533.3 100.6L533.3 100.2L533.4 99.7L533.4 99.3L533.4 99.0L533.5 98.5L533.5 98.1L533.5 98.0L533.5 97.5L533.6 97.2L533.6 97.0L533.9 95.1L534.2 94.9L534.6 96.2L534.6 96.2L534.7 96.5L534.7 96.9L534.8 97.2L534.9 97.6L534.9 98.0L535.0 98.5L535.0 99.0L535.1 99.5L535.1 100.1L535.2 100.7L535.3 101.2L535.3 101.8L535.4 102.4L535.5 102.8L535.5 103.5L535.6 104.1L535.6 104.5L535.7 105.1L535.8 105.6L535.8 106.1L535.9 106.4L535.9 106.7L536.0 106.9L536.1 107.2L536.1 107.4L536.2 107.6L536.2 107.5L536.3 107.5L536.3 107.5L536.4 107.3L536.4 107.1L536.5 107.0L536.5 106.7L536.5 106.5L536.6 106.2L536.6 105.8L536.6 105.5L536.7 105.0L536.7 104.7L536.8 104.3L536.8 103.8L536.8 103.4L536.9 102.9L536.9 102.3L536.9 101.9L537.0 101.4L537.0 101.0L537.0 100.4L537.1 99.9L537.1 99.4L537.1 98.8L537.2 98.2L537.2 97.9L537.3 97.2L537.3 96.7L537.3 96.1L537.4 95.6L537.4 95.2L537.4 94.9L537.5 94.2L537.5 93.8L537.6 93.5L537.6 92.9L537.6 92.6L537.7 92.1L537.7 91.9L537.8 91.6L537.8 91.5L538.0 90.4L538.1 89.6L538.3 89.0L538.5 88.4L538.6 87.9L538.8 87.7L539.0 87.2L539.2 87.0L539.3 87.1L539.5 87.0L539.7 87.1L539.8 87.1L539.9 87.4L540.0 87.6L540.1 87.8L540.2 88.2L540.3 88.6L540.4 88.9L540.5 89.3L540.6 89.8L540.7 90.2L540.8 90.7L540.9 91.2L541.0 91.5L541.1 92.2L541.2 92.7L541.3 93.4L541.3 93.7L541.4 94.2L541.5 94.7L541.6 95.1L541.7 95.5L541.7 95.9L541.8 96.4L541.9 96.9L541.9 97.5L542.0 97.9L542.1 98.5L542.1 99.0L542.2 99.6L542.2 100.2L542.3 100.6L542.4 101.3L542.4 101.8L542.5 102.4L542.5 102.8L542.6 103.2L542.6 103.5L542.7 103.9L542.7 104.2L542.8 104.4L542.9 104.6L542.9 104.7L543.0 104.5L543.0 104.6L543.0 104.5L543.1 104.2L543.1 104.2L543.1 104.1L543.1 103.8L543.2 103.6L543.2 103.4L543.2 103.1L543.2 102.8L543.3 102.5L543.3 102.3L543.3 101.8L543.3 101.4L543.3 101.0L543.4 100.6L543.4 100.1L543.4 99.7L543.4 99.2L543.4 98.8L543.5 98.3L543.5 97.8L543.5 97.3L543.5 96.7L543.5 96.3L543.6 95.8L543.6 95.3L543.6 94.8L543.6 94.3L543.7 94.0L543.7 93.3L543.7 92.8L543.7 92.1L543.8 91.8L543.8 91.3L543.8 90.8L543.8 90.3L543.9 89.9L543.9 89.5L543.9 89.0L544.0 88.7L544.0 88.4L544.0 87.9L544.0 87.5L544.1 87.1L544.1 86.7L544.1 86.3L544.1 85.9L544.2 85.4L544.2 85.0L544.2 84.8L544.3 84.2L544.3 83.7L544.3 83.5L544.4 82.9L544.4 82.4L544.4 81.9L544.4 81.5L544.5 81.1L544.5 80.7L544.5 80.2L544.6 79.8L544.6 79.5L544.6 78.9L544.7 78.4L544.7 78.0L544.7 77.6L544.8 77.2L544.8 76.6L544.8 76.3L544.9 75.9L544.9 75.6L544.9 75.1L545.0 74.7L545.0 74.1L545.0 73.9L545.1 73.5L545.1 73.0L545.1 72.8L545.2 72.4L545.2 72.1L545.3 71.7L545.3 71.4L545.3 70.9L545.4 70.7L545.4 70.4L545.5 69.9L545.5 69.3L545.6 68.7L545.7 68.3L545.8 67.7L545.8 67.2L545.9 66.7L546.0 66.3L546.0 65.9L546.1 65.6L546.2 65.0L546.3 64.6L546.3 64.3L546.4 63.9L546.5 63.6L546.6 63.3L546.7 62.9L546.7 62.6L546.8 62.3L546.9 62.0L547.0 61.7L547.1 61.4L547.2 61.2L547.3 60.9L547.5 60.2L547.8 59.9L548.1 59.5L548.3 59.1L548.6 58.9L548.9 58.7L549.2 58.7L549.5 58.3L549.9 58.2L550.2 58.2L550.6 57.8L551.0 57.7L551.5 57.4L552.0 57.5L552.4 57.4L552.9 57.2L553.3 57.4L553.7 57.4L554.0 57.4L554.4 57.7L554.6 58.1L554.8 58.7L554.9 59.1L555.1 59.4L555.3 59.6L555.4 59.5L555.2 59.2L555.2 58.6L555.6 58.4L556.8 58.0L557.0 57.9L557.3 57.9L557.5 57.9L557.8 57.9L558.1 57.8L558.4 57.8L558.7 57.8L559.0 57.7L559.3 57.7L559.6 57.6L560.0 57.6L560.3 57.6L560.7 57.6L561.1 57.5L561.4 57.4L561.8 57.5L562.2 57.4L562.6 57.3L563.1 57.4L563.5 57.3L563.9 57.2L564.3 57.0L564.8 57.2L565.2 57.1L565.7 57.2L566.2 57.1L566.6 57.0L567.1 56.8L567.6 57.0L568.0 56.9L568.5 56.7L569.0 56.9L569.5 56.8L570.0 56.8L570.5 56.8L571.0 56.8L571.5 56.5L572.0 56.7L572.3 56.7L572.7 56.5L573.0 56.6L573.4 56.6L573.7 56.6L574.1 56.6L574.4 56.6L574.8 56.5L575.2 56.5L575.5 56.5L575.9 56.3L576.3 56.5L576.7 56.4L577.1 56.6L577.4 56.4L577.8 56.4L578.2 56.5L578.6 56.4L579.0 56.3L579.4 56.3L579.8 56.3L580.2 56.3L580.6 56.3L581.0 56.2L581.4 56.2L581.9 56.1L582.3 56.2L582.7 56.2L583.1 56.4L583.5 56.1L583.9 56.1L584.4 55.9L584.8 56.1L585.2 56.1L585.6 56.0L586.0 56.0L586.5 56.0L586.9 55.9L587.3 56.0L587.8 56.0L588.2 56.1L588.6 56.0L589.0 55.9L589.5 55.9L589.9 55.9L590.3 55.9L590.7 55.9L591.2 55.9L591.6 55.9L592.0 55.8L592.5 55.9L592.9 55.8L593.3 56.0L593.7 55.8L594.2 55.8L594.6 55.7L595.0 55.8L595.4 55.8L595.8 55.9L596.2 55.8L596.6 55.8L596.9 55.9L597.3 55.8L597.7 55.8L598.1 55.7L598.5 55.8L598.9 55.8L599.3 55.7L599.7 55.7L600.1 55.7L600.5 55.7L600.9 55.7L601.3 55.7L601.7 55.7L602.1 55.7L602.5 55.7L602.9 55.7L603.3 55.7L603.7 55.7L604.1 55.8L604.5 55.7L604.9 55.7L605.3 55.7L605.7 55.7L606.1 55.7L606.5 55.7L606.9 55.8L607.3 55.8L607.7 55.9L608.1 55.8L608.6 55.8L609.0 55.7L609.4 55.8L609.8 55.8L610.2 55.8L610.6 55.8L611.0 55.8L611.4 56.0L611.8 55.8L612.2 55.8L612.6 55.8L613.0 55.8L613.4 55.8L613.9 55.8L614.3 55.8L614.7 55.8L615.1 56.0L615.5 55.8L615.9 55.8L616.3 56.1L616.7 55.9L617.1 55.9L617.5 56.0L618.0 55.9L618.4 55.9L618.8 55.8L619.2 55.9L619.6 55.9L620.0 56.0L620.4 55.9L620.8 55.9L621.2 56.0L621.6 55.9L622.0 55.9L622.5 55.9L622.9 56.0L623.3 56.0L623.8 56.1L624.2 56.0L624.7 56.0L625.1 56.2L625.6 56.0L626.0 56.0L626.5 56.1L626.9 56.0L627.4 56.1L627.8 56.1L628.3 56.1L628.7 56.1L629.2 56.1L629.7 56.1L630.1 56.1L630.6 56.2L631.1 56.2L631.5 56.2L632.0 56.1L632.4 56.2L632.9 56.2L633.3 56.4L633.8 56.2L634.2 56.3L634.7 56.3L635.1 56.3L635.6 56.3L636.0 56.5L636.4 56.3L636.9 56.3L637.3 56.3L637.7 56.4L638.1 56.4L638.5 56.5L638.9 56.4L639.3 56.4L639.7 56.2L640.1 56.4L640.5 56.4L640.9 56.4L641.2 56.5L641.6 56.5L641.9 56.6L642.3 56.5L642.6 56.5L643.0 56.4L643.3 56.5L643.6 56.5L643.9 56.5L644.2 56.5L644.5 56.5L644.7 56.4L645.0 56.5L645.2 56.5L645.5 56.5L645.7 56.5L647.3 56.4L648.2 56.5L648.5 56.1L648.5 55.9L648.4 55.6L648.3 55.6L648.5 55.6L648.9 55.8L649.4 55.8L649.8 56.0L650.3 56.1L650.7 56.4L651.1 56.5L651.4 56.5L651.7 56.3L652.0 56.0L652.2 55.7L652.4 55.1L652.6 54.6L652.8 54.3L653.0 53.8L653.2 53.4L653.4 53.0L653.6 52.7L653.8 52.3L654.0 52.0L654.3 51.8L654.5 51.5L654.8 51.2L655.0 50.4L655.1 50.1L655.1 49.9L655.2 49.4L655.2 49.1L655.3 48.8L655.3 48.3L655.4 47.8L655.4 47.4L655.5 46.9L655.6 46.5L655.6 45.9L655.7 45.5L655.7 45.0L655.8 44.7L655.8 44.1L655.9 43.7L656.0 43.3L656.0 42.9L656.1 42.5L656.2 42.1L656.2 41.6L656.3 41.2L656.4 40.9L656.4 40.3L656.5 39.8L656.6 39.2L656.6 39.0L656.7 38.6L656.8 38.3L656.8 37.8L656.9 37.5L657.0 37.1L657.0 36.9L657.1 36.6L657.3 35.9L657.5 35.5L657.8 35.3L658.0 35.4L658.4 35.3L658.9 35.6L659.3 35.1L659.4 34.9L659.4 34.6L659.5 34.3L659.6 33.8L659.7 33.3L659.7 32.8L659.8 32.3L659.9 31.7L659.9 31.2L660.0 30.7L660.1 30.2L660.1 29.6L660.2 29.3L660.3 29.0L660.3 28.8L660.4 28.5L660.6 28.3L660.8 28.7L660.9 29.1L661.1 29.7L661.3 30.5L661.4 30.7L661.5 31.1L661.6 31.5L661.8 32.0L661.9 32.5L662.0 33.2L662.1 33.5L662.2 33.9L662.4 34.2L662.5 34.5L662.6 34.7L662.8 34.6L663.0 34.4L663.3 33.8L663.5 33.3L663.7 32.8L664.0 32.3L664.3 31.7L664.6 31.3L664.9 31.2L665.1 31.3L665.2 31.5L665.4 31.7L665.6 32.3L665.7 32.5L665.9 33.1L666.1 33.8L666.2 34.1L666.2 34.4L666.3 34.9L666.4 35.1L666.4 35.5L666.5 35.8L666.6 36.3L666.6 36.7L666.7 37.2L666.8 37.5L666.9 38.0L666.9 38.2L667.0 38.9L667.1 39.3L667.1 39.7L667.2 40.2L667.3 40.6L667.4 41.1L667.4 41.4L667.5 41.8L667.6 42.3L667.7 42.7L667.7 43.1L667.8 43.7L667.9 43.9L668.0 44.4L668.1 44.7L668.2 45.2L668.2 45.6L668.3 45.9L668.4 46.4L668.5 46.8L668.6 47.1L668.6 47.5L668.7 47.8L668.8 48.2L668.9 48.5L669.0 49.0L669.2 49.2L669.3 49.9L669.4 50.3L669.6 50.7L669.7 51.1L669.9 51.5L670.0 51.9L670.1 52.1L670.3 52.4L670.4 52.5L670.6 53.2L670.8 53.5L671.1 53.7L671.3 54.0L671.8 54.2L672.1 54.4L672.5 54.3L672.9 54.2L673.3 54.4L673.8 54.1L674.3 54.1L674.7 54.0L675.2 54.2L675.6 54.3L675.9 54.5L676.1 54.8L676.3 55.0L676.5 55.1L676.6 55.5L676.8 55.8L676.9 55.9L677.1 56.4L677.2 56.8L677.3 57.3L677.4 57.6L677.5 58.1L677.7 58.7L677.8 59.2L677.9 59.8L678.0 60.4L678.0 60.8L678.1 61.1L678.1 61.4L678.2 61.7L678.2 62.0L678.2 62.4L678.3 62.7L678.3 63.0L678.4 63.1L678.4 63.7L678.4 64.1L678.5 64.6L678.5 64.8L678.5 65.2L678.6 65.7L678.6 66.0L678.6 66.4L678.6 66.7L678.7 67.2L678.7 67.6L678.7 68.1L678.8 68.5L678.8 68.9L678.8 69.4L678.9 69.8L678.9 70.2L678.9 70.6L678.9 71.1L679.0 71.5L679.0 72.2L679.0 72.5L679.1 72.9L679.1 73.3L679.2 73.8L679.2 74.3L679.2 74.8L679.3 75.2L679.3 75.7L679.3 76.0L679.4 76.4L679.4 76.9L679.4 77.2L679.5 77.7L679.5 78.2L679.5 78.8L679.6 79.1L679.6 79.6L679.6 80.1L679.6 80.6L679.7 81.1L679.7 81.7L679.7 82.2L679.8 82.7L679.8 83.4L679.9 83.8L679.9 84.3L679.9 84.7L680.0 85.4L680.0 85.9L680.0 86.4L680.1 87.0L680.1 87.5L680.1 88.1L680.2 88.6L680.2 89.1L680.2 89.4L680.3 90.1L680.3 90.6L680.3 91.2L680.4 91.5L680.4 91.9L680.4 92.3L680.5 92.7L680.5 93.1L680.6 93.5L680.6 93.8L680.6 94.2L680.7 94.4L680.7 94.7L680.7 95.0L680.8 95.4L680.8 95.4L680.8 95.6L680.9 95.9L680.9 95.8L680.9 95.9L681.0 96.1L681.0 96.0L681.0 96.0L681.1 95.8L681.1 95.9L681.1 95.8L681.2 95.6L681.2 95.5L681.2 95.3L681.3 95.2L681.3 94.8L681.3 94.6L681.4 94.2L681.4 94.0L681.4 93.7L681.5 93.5L681.5 93.0L681.5 92.6L681.6 92.4L681.6 91.8L681.6 91.4L681.7 90.8L681.7 90.5L681.7 90.0L681.8 89.5L681.8 89.0L681.8 88.5L681.9 87.9L681.9 87.5L681.9 87.0L682.0 86.6L682.0 85.9L682.0 85.4L682.1 84.7L682.1 84.3L682.1 83.8L682.2 83.3L682.2 82.7L682.2 82.2L682.2 81.4L682.3 81.1L682.3 80.6L682.3 80.2L682.4 79.5L682.4 79.0L682.4 78.5L682.5 78.0L682.5 77.5L682.5 77.1L682.5 76.6L682.6 76.1L682.6 75.5L682.6 75.3L682.6 74.9L682.7 74.3L682.7 74.1L682.7 73.7L682.7 73.2L682.8 72.8L682.8 72.4L682.8 72.2L682.8 71.5L682.9 71.1L682.9 70.7L682.9 70.2L682.9 69.7L682.9 69.4L683.0 68.8L683.0 68.3L683.0 67.7L683.0 67.4L683.0 66.9L683.1 66.3L683.1 66.0L683.1 65.5L683.1 64.8L683.2 64.6L683.2 64.1L683.2 63.7L683.2 63.2L683.2 62.7L683.3 62.1L683.3 61.8L683.3 61.4L683.3 60.8L683.3 60.5L683.4 60.1L683.4 59.7L683.4 59.2L683.4 58.8L683.4 58.5L683.5 58.0L683.5 57.6L683.5 57.2L683.5 56.9L683.5 56.5L683.6 56.2L683.6 55.8L683.6 55.5L683.6 55.1L683.6 54.8L683.7 54.5L683.7 54.3L683.7 54.0L683.7 53.7L683.8 53.4L683.8 53.2L683.8 53.0L684.1 51.1L684.4 50.2L684.6 50.1L684.9 50.4L685.2 51.3L685.2 51.5L685.3 51.6L685.3 51.9L685.4 52.1L685.4 52.2L685.5 52.5L685.5 52.8L685.6 52.9L685.6 53.4L685.7 53.7L685.7 53.9L685.8 54.3L685.8 54.7L685.9 55.1L685.9 55.5L686.0 55.9L686.0 56.3L686.1 56.8L686.1 57.3L686.2 57.7L686.2 58.4L686.3 59.0L686.3 59.7L686.4 60.2L686.4 60.8L686.5 61.5L686.5 62.2L686.5 62.5L686.5 62.8L686.6 63.1L686.6 63.5L686.6 63.7L686.6 64.2L686.6 64.6L686.6 65.1L686.7 65.4L686.7 65.8L686.7 66.3L686.7 66.7L686.7 67.1L686.7 67.6L686.8 68.0L686.8 68.5L686.8 69.1L686.8 69.5L686.8 70.0L686.9 70.6L686.9 71.0L686.9 71.5L686.9 72.1L686.9 72.6L686.9 73.1L687.0 73.6L687.0 74.2L687.0 74.7L687.0 75.2L687.0 75.8L687.0 76.3L687.1 76.8L687.1 77.4L687.1 77.9L687.1 78.4L687.1 78.9L687.1 79.4L687.2 80.0L687.2 80.5L687.2 81.0L687.2 81.5L687.2 81.9L687.3 82.4L687.3 83.0L687.3 83.3L687.3 83.8L687.3 84.4L687.3 84.7L687.4 85.1L687.4 85.4L687.4 85.9L687.4 86.3L687.4 86.4L687.4 87.0L687.5 87.3L687.5 87.6L687.5 87.9L687.5 88.2L687.5 88.3L687.5 88.8L687.6 89.0L687.6 89.3L687.6 89.4L687.6 89.6L687.6 89.8L687.6 89.8L687.7 90.0L687.7 89.9L687.7 90.1L687.7 90.1L687.7 90.0L687.8 90.1L687.8 90.1L687.8 90.1L687.8 89.9L687.9 89.7L687.9 89.7L687.9 89.3L687.9 89.1L688.0 88.9L688.0 88.5L688.0 88.2L688.0 87.9L688.0 87.5L688.1 87.1L688.1 86.8L688.1 86.3L688.1 85.8L688.2 85.3L688.2 84.9L688.2 84.4L688.2 83.9L688.2 83.4L688.3 82.9L688.3 82.4L688.3 81.8L688.3 81.3L688.4 80.9L688.4 80.2L688.4 79.6L688.4 79.3L688.5 78.5L688.5 77.9L688.5 77.5L688.5 76.8L688.5 76.2L688.6 75.8L688.6 75.1L688.6 74.6L688.6 73.9L688.7 73.5L688.7 73.0L688.7 72.4L688.7 72.0L688.8 71.5L688.8 71.3L688.8 70.6L688.8 70.2L688.9 69.8L688.9 69.4L688.9 69.0L688.9 68.6L689.0 68.1L689.0 67.6L689.0 67.1L689.0 66.7L689.1 66.2L689.1 65.9L689.1 65.3L689.2 64.9L689.2 64.4L689.2 63.9L689.2 63.5L689.3 63.2L689.3 62.5L689.3 62.1L689.4 61.4L689.4 61.2L689.4 60.7L689.4 60.5L689.5 59.9L689.5 59.4L689.5 58.8L689.6 58.6L689.6 58.2L689.6 57.6L689.6 57.3L689.7 56.9L689.7 56.5L689.7 56.2L689.8 55.8L689.8 55.5L689.8 55.1L689.9 54.7L689.9 54.2L689.9 54.1L690.0 53.8L690.0 53.5L690.0 53.2L690.1 52.9L690.1 52.8L690.2 52.3L690.2 52.1L690.4 51.1L690.6 50.4L690.8 49.9L691.1 49.7L691.3 49.4L691.6 49.3L691.8 49.3L692.1 49.1L692.3 49.0L692.7 48.9L693.2 48.9L693.7 49.0L694.1 48.9L694.5 48.7L694.6 48.5L694.8 48.1L694.9 47.8L695.1 47.4L695.2 47.1L695.3 46.5L695.4 46.0L695.5 45.7L695.7 45.1L695.8 44.7L695.9 44.2L696.0 43.9L696.1 43.6L696.3 42.9L696.5 42.3L696.7 41.8L696.8 41.4L697.0 41.2L697.2 41.2L697.3 41.3L697.4 41.6L697.6 41.9L697.7 42.3L697.8 42.7L697.9 43.1L698.1 43.7L698.2 44.1L698.4 44.7L698.5 45.0L698.7 45.7L698.8 46.0L698.9 46.3L699.0 46.8L699.2 47.2L699.3 47.7L699.4 48.1L699.6 48.6L699.7 48.9L699.8 49.5L700.0 49.9L700.1 50.1L700.2 50.7L700.4 51.1L700.5 51.6L700.6 51.8L700.8 52.1L700.9 52.2L701.3 52.9L701.8 53.2L702.2 53.5L702.7 53.2L703.1 53.1L703.4 53.0L703.7 52.7L704.0 52.4L704.4 51.9L704.7 51.6L705.0 51.2L705.3 50.9L705.5 50.5L705.8 50.1L706.0 49.6L706.3 49.2L706.5 48.8L706.7 48.5L707.0 48.0L707.2 47.6L707.4 47.5L707.6 47.2L708.0 47.1L708.4 47.4L708.7 47.8L709.0 48.6L709.1 48.7L709.2 49.2L709.3 49.5L709.4 49.6L709.5 50.2L709.6 50.6L709.7 51.1L709.8 51.4L709.9 51.9L710.0 52.1L710.1 52.8L710.2 53.2L710.3 53.5L710.4 54.1L710.5 54.5L710.6 54.7L710.6 55.4L710.7 56.0L710.8 56.4L710.9 57.1L710.9 57.7L711.0 58.3L711.0 58.9L711.1 59.5L711.2 60.2L711.2 60.4L711.3 60.8L711.3 61.0L711.4 61.2L711.4 61.3L711.5 61.1L711.5 61.1L711.6 60.9L711.6 60.9L711.6 60.5L711.7 60.2L711.7 59.7L711.7 59.5L711.8 59.1L711.8 58.7L711.8 58.2L711.9 57.8L711.9 57.3L711.9 56.8L712.0 56.3L712.0 55.9L712.0 55.2L712.1 54.7L712.1 54.0L712.1 53.7L712.2 53.2L712.2 52.7L712.2 52.2L712.3 51.7L712.3 51.2L712.3 50.8L712.4 50.5L712.4 50.2L712.5 49.6L712.5 49.0L712.6 48.4L712.6 47.9L712.7 47.4L712.8 46.9L712.8 46.3L712.9 45.7L712.9 45.1L713.0 44.8L713.1 44.3L713.1 43.9L713.2 43.6L713.3 43.3L713.3 43.2L713.4 42.9L713.4 42.7L713.5 42.6L713.6 42.7L713.6 42.9L713.7 43.0L713.7 43.4L713.8 43.7L713.8 44.3L713.9 44.6L713.9 45.1L714.0 45.7L714.0 46.1L714.1 46.7L714.2 47.1L714.2 47.8L714.3 48.3L714.3 48.7L714.4 49.3L714.4 49.7L714.5 50.0L714.6 50.6L714.7 51.1L714.8 51.5L714.9 52.0L715.0 52.5L715.1 53.1L715.2 53.3L715.3 53.7L715.4 54.2L715.5 54.5L715.6 54.8L715.6 55.3L715.7 55.3L716.1 55.7L716.2 55.6L716.2 55.2L716.3 54.9L716.4 54.6L716.4 54.2L716.5 53.8L716.6 53.3L716.7 52.8L716.8 52.4L716.9 51.9L717.0 51.3L717.1 50.8L717.2 50.3L717.3 49.7L717.4 49.2L717.5 48.5L717.6 48.2L717.7 47.7L717.8 47.2L717.9 46.7L718.0 46.3L718.1 45.8L718.2 45.5L718.3 45.2L718.4 44.9L718.5 44.6L718.5 44.4L718.6 44.1L718.7 44.2L718.8 44.2L718.9 44.1L719.0 44.5L719.1 44.8L719.2 45.4L719.3 45.7L719.3 46.2L719.4 46.7L719.5 47.4L719.6 48.0L719.6 48.6L719.7 49.3L719.8 49.9L719.9 50.3L719.9 51.0L720.0 51.4L720.1 51.9L720.2 52.1L720.2 52.3L720.3 52.6L720.4 52.4L720.5 52.2L720.5 51.8L720.6 51.6L720.7 51.2L720.8 50.7L720.9 50.2L720.9 49.7L721.0 49.1L721.1 48.5L721.2 47.9L721.2 47.5L721.3 46.9L721.4 46.4L721.5 46.0L721.5 45.7L721.6 45.4L721.7 45.2L721.8 45.3L721.9 45.5L722.1 45.8L722.2 46.4L722.3 47.0L722.4 47.7L722.6 48.2L722.7 48.8L722.8 49.1L723.0 49.6L723.1 49.8L723.3 49.9L723.5 49.4L723.8 49.0L724.0 48.2L724.3 47.8L724.5 47.3L724.8 46.8L725.0 46.8L725.2 46.9L725.4 47.2L725.7 47.6L725.9 48.1L726.1 48.8L726.3 49.1L726.5 49.4L726.9 49.7L727.4 49.7L727.9 49.7L728.3 49.9L728.6 50.0L728.9 50.3L729.2 50.8L729.5 51.0L729.8 51.3L730.1 51.8L730.4 52.1L730.7 52.5L731.0 52.6L731.4 52.7L731.6 52.5L731.8 52.3L732.0 51.7L732.2 51.1L732.5 50.4L732.7 50.0L732.9 49.6L733.1 49.1L733.3 49.0L733.5 49.0L733.6 48.9L733.7 49.3L733.8 49.6L733.9 49.8L734.0 50.4L734.1 50.9L734.2 51.5L734.3 51.9L734.4 52.4L734.5 52.8L734.6 53.4L734.7 53.9L734.8 54.1L734.9 54.7L735.0 55.0L735.2 55.3L735.4 55.9L735.6 56.2L735.8 56.7L736.0 56.8L736.2 57.1L736.4 57.5L736.5 57.8L736.6 58.2L736.8 58.8L736.9 59.0L737.0 59.4L737.1 59.7L737.2 60.3L737.3 60.7L737.4 61.0L737.5 61.6L737.6 62.0L737.7 62.2L737.7 62.6L737.8 62.9L737.9 63.0L738.0 63.5L738.0 63.8L738.1 64.1L738.2 64.7L738.2 65.3L738.3 65.9L738.3 66.3L738.3 66.6L738.4 66.9L738.4 67.2L738.4 67.5L738.4 67.6L738.4 68.1L738.5 68.4L738.5 68.6L738.5 69.0L738.5 69.4L738.5 69.8L738.5 70.1L738.6 70.5L738.6 70.8L738.6 71.3L738.6 71.7L738.6 72.0L738.6 72.6L738.6 73.0L738.7 73.5L738.7 74.0L738.7 74.5L738.7 75.0L738.7 75.5L738.7 76.1L738.8 76.6L738.8 77.3L738.8 77.9L738.8 78.2L738.8 78.5L738.8 78.8L738.8 79.0L738.8 79.5L738.9 79.8L738.9 80.2L738.9 80.5L738.9 80.9L738.9 81.1L738.9 81.7L738.9 82.0L738.9 82.4L738.9 82.8L738.9 83.2L739.0 83.4L739.0 84.0L739.0 84.4L739.0 85.0L739.0 85.3L739.0 85.7L739.0 86.1L739.0 86.5L739.0 87.0L739.0 87.3L739.1 87.8L739.1 88.3L739.1 88.7L739.1 89.1L739.1 89.6L739.1 90.2L739.1 90.5L739.1 90.9L739.1 91.2L739.2 91.8L739.2 92.3L739.2 92.6L739.2 93.1L739.2 93.6L739.2 94.1L739.2 94.5L739.2 94.9L739.2 95.3L739.2 95.8L739.3 96.2L739.3 96.7L739.3 97.1L739.3 97.5L739.3 98.1L739.3 98.3L739.3 98.7L739.3 98.9L739.3 99.6L739.3 100.0L739.3 100.3L739.4 100.7L739.4 101.1L739.4 101.4L739.4 101.9L739.4 102.2L739.4 102.7L739.4 103.1L739.4 103.6L739.4 104.2L739.4 104.5L739.4 105.0L739.5 105.7L739.5 106.1L739.5 106.6L739.5 107.3L739.5 107.7L739.5 108.2L739.5 108.6L739.5 109.3L739.5 109.8L739.5 110.3L739.5 110.9L739.5 111.4L739.6 112.1L739.6 112.5L739.6 113.0L739.6 113.6L739.6 114.0L739.6 114.5L739.6 114.8L739.6 115.5L739.6 116.0L739.6 116.6L739.6 116.9L739.6 117.3L739.6 117.8L739.6 118.1L739.7 118.5L739.7 119.0L739.7 119.2L739.7 119.5L739.7 119.7L739.7 120.1L739.7 120.3L739.7 120.6L739.7 120.8L739.7 121.0L739.7 121.3L739.8 121.3L739.8 121.4L739.8 121.6L739.8 121.5L739.8 121.5L739.8 121.5L739.8 121.4L739.8 121.4L739.8 121.4L739.9 121.1L739.9 120.9L739.9 121.0L739.9 120.5L739.9 120.3L739.9 120.2L739.9 119.7L739.9 119.4L740.0 119.1L740.0 118.7L740.0 118.3L740.0 118.1L740.0 117.5L740.0 117.1L740.0 116.5L740.1 116.2L740.1 115.8L740.1 115.2L740.1 114.8L740.1 114.3L740.1 113.8L740.1 113.3L740.2 112.7L740.2 112.1L740.2 111.7L740.2 111.2L740.2 110.8L740.2 110.1L740.2 109.6L740.3 108.8L740.3 108.5L740.3 108.0L740.3 107.5L740.3 106.9L740.3 106.4L740.4 105.8L740.4 105.4L740.4 104.9L740.4 104.3L740.4 103.9L740.5 103.5L740.5 103.1L740.5 102.6L740.5 102.2L740.5 101.7L740.6 101.4L740.6 101.0L740.6 100.6L740.6 100.2L740.6 99.8L740.7 99.6L740.7 99.0L740.7 98.6L740.7 98.4L740.7 97.8L740.8 97.4L740.8 96.9L740.8 96.5L740.8 96.1L740.8 95.7L740.9 95.3L740.9 94.9L740.9 94.5L740.9 94.0L740.9 93.6L741.0 93.0L741.0 92.8L741.0 92.3L741.0 92.1L741.1 91.5L741.1 91.1L741.1 90.5L741.1 90.2L741.2 89.8L741.2 89.4L741.2 89.0L741.2 88.6L741.3 88.1L741.3 87.8L741.3 87.4L741.3 86.8L741.4 86.6L741.4 86.2L741.4 85.6L741.4 85.4L741.5 85.0L741.5 84.4L741.5 84.2L741.5 83.9L741.6 83.4L741.6 83.1L741.6 82.8L741.6 82.3L741.7 82.0L741.7 81.7L741.7 81.4L741.8 80.8L741.8 80.3L741.9 79.9L741.9 79.4L741.9 78.9L742.0 78.3L742.0 78.0L742.1 77.6L742.1 77.2L742.2 76.7L742.2 76.3L742.3 75.7L742.3 75.4L742.3 75.0L742.4 74.6L742.4 74.2L742.5 73.8L742.5 73.5L742.6 73.0L742.6 72.6L742.7 72.4L742.7 71.8L742.8 71.4L742.8 71.2L742.9 70.7L742.9 70.3L743.0 69.9L743.0 69.6L743.0 69.2L743.1 68.8L743.1 68.5L743.2 68.2L743.2 67.8L743.3 67.5L743.3 67.2L743.4 66.7L743.4 66.5L743.5 66.0L743.5 65.6L743.6 64.9L743.7 64.4L743.7 63.9L743.8 63.4L743.9 63.0L743.9 62.6L744.0 62.1L744.1 61.6L744.1 61.0L744.2 60.8L744.3 60.4L744.3 60.1L744.4 59.6L744.5 59.2L744.5 59.1L744.6 58.5L744.7 58.2L744.7 57.8L744.8 57.6L744.8 57.4L744.9 57.2L745.2 56.1L745.4 55.4L745.7 54.9L745.9 55.0L746.2 55.2L746.3 55.2L746.4 55.6L746.5 56.0L746.6 56.3L746.7 56.8L746.8 57.2L746.9 57.6L747.0 58.2L747.1 58.7L747.2 59.3L747.3 59.7L747.5 60.1L747.6 60.6L747.7 60.9L747.9 61.4L748.1 62.1L748.3 62.5L748.5 63.0L748.7 63.7L749.0 63.9L749.2 64.2L749.4 64.1L749.6 64.3L749.7 64.2L749.9 63.9L750.0 63.8L750.2 63.6L750.3 63.1L750.4 63.0L750.6 62.6L750.7 62.1L750.8 61.7L751.0 61.2L751.1 60.8L751.2 60.2L751.4 59.6L751.5 59.1L751.6 58.7L751.6 58.3L751.7 58.0L751.7 57.6L751.8 57.2L751.9 56.9L751.9 56.3L752.0 55.8L752.0 55.3L752.1 54.9L752.1 54.4L752.2 53.7L752.2 53.4L752.3 52.9L752.4 52.5L752.4 51.9L752.5 51.5L752.5 50.8L752.6 50.6L752.6 50.1L752.7 49.6L752.7 49.3L752.8 49.0L752.9 48.4L752.9 48.3L753.0 48.0L753.0 47.7L753.1 47.6L753.5 47.0L753.8 47.0L754.2 47.7L754.6 48.2L755.0 48.5L755.4 48.5L755.9 48.4L756.3 48.0L756.8 47.9L757.2 47.6L757.5 47.4L757.7 47.0L757.9 46.7L758.2 46.4L758.4 45.9L758.6 45.5L758.9 45.0L759.1 44.7L759.3 44.3L759.6 43.8L759.8 43.7L760.1 43.3L760.3 43.1L760.6 42.6L760.8 42.3L761.0 42.0L761.2 41.5L761.3 41.0L761.5 40.7L761.7 40.0L761.8 39.5L761.9 39.1L762.1 38.8L762.2 38.5L762.3 38.5L762.4 38.6L762.5 38.9L762.6 39.5L762.7 39.8L762.7 40.4L762.8 41.0L762.9 41.5L762.9 42.0L763.0 42.6L763.0 42.7" stroke="#ff0000" stroke-width="1.35"/>
<path d="M430.6 165.2L430.8 165.2L431.0 165.2L431.3 165.3L431.6 165.2L431.9 165.3L432.2 165.3L432.5 165.3L432.8 165.3L433.2 165.3L433.6 165.4L434.0 165.4L434.4 165.2L434.8 165.4L435.2 165.5L435.6 165.6L436.1 165.5L436.5 165.5L437.0 165.4L437.5 165.6L437.9 165.6L438.4 165.8L438.9 165.6L439.4 165.6L439.9 165.5L440.4 165.6L440.9 165.6L441.4 165.6L441.9 165.6L442.2 165.6L442.6 165.6L443.0 165.6L443.3 165.6L443.7 165.5L444.1 165.5L444.5 165.5L444.9 165.5L445.3 165.5L445.7 165.5L446.1 165.7L446.5 165.4L446.9 165.4L447.4 165.5L447.8 165.4L448.2 165.4L448.7 165.2L449.1 165.3L449.5 165.3L450.0 165.3L450.4 165.2L450.9 165.2L451.3 165.3L451.7 165.2L452.2 165.1L452.6 165.0L453.0 165.1L453.5 165.1L453.9 164.9L454.3 165.0L454.7 165.0L455.1 165.0L455.5 164.9L455.9 164.9L456.3 164.8L456.7 164.9L457.1 164.8L457.4 164.8L457.8 164.8L458.1 164.8L458.5 164.8L458.8 164.7L459.3 164.7L459.8 164.4L460.3 164.6L460.8 164.5L461.3 164.5L461.8 164.5L462.2 164.4L462.7 164.5L463.1 164.3L463.5 164.3L463.9 164.4L464.3 164.2L464.7 164.2L465.1 164.2L465.4 164.1L465.8 164.0L466.2 163.8L466.5 163.9L466.9 163.9L467.2 163.7L467.5 163.7L467.9 163.7L468.2 163.6L468.6 163.6L468.9 163.5L469.4 163.6L469.9 163.3L470.3 163.2L470.7 163.3L471.2 163.0L471.6 162.9L472.0 162.8L472.4 162.6L472.8 162.5L473.1 162.3L473.5 162.3L473.9 162.1L474.2 162.1L474.6 161.9L474.9 161.7L475.3 161.7L475.6 161.4L476.0 161.2L476.3 161.2L476.7 160.8L477.0 160.6L477.4 160.6L477.7 160.2L478.0 160.0L478.3 159.7L478.6 159.5L478.9 159.3L479.3 159.3L479.6 158.8L480.0 158.5L480.3 158.4L480.7 158.0L481.0 157.8L481.3 157.7L481.6 157.3L481.9 157.1L482.2 156.7L482.5 156.6L482.9 156.3L483.2 156.2L483.5 155.8L483.9 155.5L484.2 155.4L484.6 155.0L484.9 154.7L485.2 154.5L485.6 154.2L485.9 153.9L486.2 153.8L486.5 153.5L486.8 153.3L487.1 153.1L487.4 152.9L487.8 152.6L488.3 152.3L488.7 152.2L489.1 152.0L489.6 152.0L490.0 151.7L490.4 151.5L490.7 151.5L491.1 151.3L491.5 151.2L491.8 151.2L492.2 151.0L492.5 150.9L493.0 150.8L493.5 150.6L493.9 150.5L494.3 150.6L494.6 150.4L495.0 150.3L495.4 150.3L495.9 150.4L496.3 150.5L496.6 150.7L497.0 150.7L497.4 150.9L497.8 151.1L498.1 151.2L498.5 151.4L498.9 151.8L499.3 151.8L499.7 152.0L500.1 152.1L500.5 152.2L500.9 152.4L501.3 152.8L501.7 152.7L502.1 152.9L502.6 152.9L503.0 153.1L503.4 153.2L503.8 153.2L504.3 153.2L504.7 153.1L505.1 153.0L505.5 152.8L505.9 152.6L506.3 152.5L506.7 152.1L507.1 151.8L507.5 151.6L507.9 151.3L508.3 151.1L508.7 150.9L509.1 150.9L509.4 150.9L509.8 150.8L510.1 151.1L510.4 151.3L510.7 151.5L511.0 151.8L511.3 152.1L511.6 152.4L511.9 152.8L512.2 153.1L512.5 153.4L512.8 153.8L513.1 154.1L513.4 154.3L513.7 154.6L514.0 154.9L514.3 155.3L514.6 155.5L514.9 155.8L515.2 156.2L515.5 156.4L515.8 156.8L516.1 156.9L516.4 157.4L516.7 157.7L517.0 157.8L517.3 158.3L517.6 158.6L517.9 159.1L518.2 159.3L518.5 159.7L518.7 160.0L519.0 160.3L519.3 160.7L519.6 161.1L519.8 161.3L520.1 161.6L520.3 161.7L520.5 162.1L520.7 162.3L521.2 162.9L521.5 162.9L521.7 163.0L522.0 163.6L522.1 163.8L522.3 164.2L522.4 164.7L522.5 165.1L522.6 165.6L522.8 166.3L522.9 166.6L523.1 167.0L523.2 167.3L523.3 167.8L523.5 168.0L523.9 168.2L524.4 167.9L524.9 167.6L525.4 167.7L525.8 167.5L526.1 167.3L526.5 167.1L526.9 167.4L527.3 167.9L527.7 168.9L527.8 169.2L527.8 169.5L527.9 169.8L527.9 170.0L528.0 170.3L528.1 170.5L528.1 170.9L528.2 171.2L528.2 171.6L528.3 171.9L528.3 172.2L528.4 172.4L528.5 173.0L528.5 173.4L528.6 173.6L528.6 174.1L528.7 174.6L528.8 175.0L528.8 175.4L528.9 175.8L528.9 176.2L529.0 176.7L529.0 177.1L529.1 177.7L529.1 178.1L529.2 178.5L529.3 179.1L529.3 179.5L529.4 179.9L529.4 180.4L529.5 180.9L529.5 181.3L529.6 181.6L529.6 182.3L529.7 182.8L529.7 183.2L529.8 183.7L529.8 184.2L529.8 184.4L529.9 184.9L529.9 185.3L529.9 185.6L530.0 186.0L530.0 186.4L530.0 186.7L530.0 187.1L530.1 187.5L530.1 187.8L530.1 188.3L530.2 188.7L530.2 189.0L530.2 189.5L530.2 189.9L530.3 190.6L530.3 190.8L530.3 191.2L530.3 191.5L530.4 192.0L530.4 192.5L530.4 193.0L530.4 193.3L530.5 193.7L530.5 194.0L530.5 194.6L530.5 195.0L530.6 195.5L530.6 195.9L530.6 196.3L530.6 196.7L530.7 197.1L530.7 197.5L530.7 197.9L530.7 198.4L530.7 198.8L530.8 199.1L530.8 199.6L530.8 200.0L530.8 200.5L530.9 200.8L530.9 201.2L530.9 201.5L530.9 202.0L530.9 202.4L531.0 202.8L531.0 203.2L531.0 203.6L531.0 203.9L531.1 204.3L531.1 204.6L531.1 205.0L531.1 205.5L531.2 206.0L531.2 206.3L531.2 207.0L531.2 207.5L531.3 207.9L531.3 208.5L531.3 209.1L531.3 209.7L531.4 210.1L531.4 210.7L531.4 211.3L531.4 211.7L531.5 212.3L531.5 212.9L531.5 213.3L531.5 213.8L531.6 214.4L531.6 214.8L531.6 215.3L531.6 215.7L531.7 216.2L531.7 216.7L531.7 217.3L531.7 217.5L531.8 217.9L531.8 218.3L531.8 218.6L531.8 218.9L531.9 219.0L531.9 219.5L531.9 219.8L531.9 220.0L532.0 220.2L532.0 220.3L532.0 220.6L532.0 220.5L532.1 220.6L532.1 220.4L532.1 220.6L532.2 220.5L532.2 220.5L532.2 220.2L532.3 220.0L532.3 219.7L532.3 219.5L532.3 219.2L532.4 218.7L532.4 218.4L532.4 218.0L532.5 217.6L532.5 217.1L532.5 216.7L532.6 216.3L532.6 215.7L532.7 215.1L532.7 214.7L532.7 214.0L532.8 213.5L532.8 213.1L532.8 212.4L532.9 211.8L532.9 211.3L532.9 210.7L533.0 210.2L533.0 209.5L533.0 209.2L533.1 208.7L533.1 208.3L533.1 207.7L533.2 207.3L533.2 206.8L533.2 206.5L533.3 206.1L533.3 205.8L533.3 205.5L533.4 205.2L533.4 205.0L533.8 203.4L534.2 203.6L534.6 205.0L534.7 205.2L534.7 205.5L534.8 205.9L534.8 206.2L534.9 206.6L534.9 207.2L535.0 207.6L535.0 208.1L535.1 208.8L535.2 209.2L535.2 209.7L535.3 210.3L535.3 210.9L535.4 211.4L535.5 211.9L535.5 212.5L535.6 213.1L535.6 213.6L535.7 214.1L535.8 214.5L535.8 215.2L535.9 215.3L536.0 215.7L536.0 215.9L536.1 216.2L536.1 216.4L536.2 216.3L536.2 216.5L536.3 216.5L536.3 216.2L536.4 216.3L536.4 216.2L536.5 216.1L536.5 215.8L536.5 215.5L536.6 215.4L536.6 214.9L536.7 214.5L536.7 214.1L536.7 213.8L536.8 213.3L536.8 212.8L536.9 212.5L536.9 212.0L536.9 211.4L537.0 211.0L537.0 210.5L537.0 210.0L537.1 209.5L537.1 208.9L537.2 208.5L537.2 207.9L537.2 207.3L537.3 206.9L537.3 206.3L537.3 205.8L537.4 205.5L537.4 204.8L537.5 204.3L537.5 204.1L537.5 203.4L537.6 203.0L537.6 202.6L537.7 202.3L537.7 201.9L537.8 201.5L537.8 201.3L537.9 200.6L538.0 199.8L538.2 199.3L538.3 198.8L538.4 198.4L538.5 197.7L538.7 197.2L538.8 197.0L538.9 196.5L539.1 196.2L539.2 195.9L539.3 195.7L539.4 195.6L539.6 195.8L539.7 195.6L539.8 195.7L539.9 196.0L540.0 196.0L540.1 196.3L540.2 196.7L540.3 196.9L540.4 197.3L540.5 197.8L540.6 198.2L540.7 198.6L540.8 199.2L540.9 199.6L541.0 200.1L541.1 200.7L541.2 201.2L541.3 201.7L541.4 202.1L541.5 202.7L541.6 203.2L541.7 203.5L541.7 204.0L541.8 204.4L541.8 204.8L541.9 205.4L541.9 206.0L542.0 206.6L542.1 207.1L542.1 207.6L542.2 208.1L542.2 208.8L542.3 209.3L542.3 210.0L542.4 210.4L542.4 210.9L542.4 211.3L542.5 211.9L542.5 212.3L542.6 212.5L542.6 213.0L542.7 213.2L542.7 213.4L542.8 213.6L542.8 213.7L542.9 213.9L542.9 213.6L542.9 213.5L543.0 213.5L543.0 213.3L543.0 213.1L543.0 212.8L543.1 212.6L543.1 212.4L543.1 211.9L543.1 211.8L543.2 211.5L543.2 211.0L543.2 210.8L543.2 210.4L543.3 209.9L543.3 209.6L543.3 209.2L543.3 208.9L543.3 208.3L543.4 207.9L543.4 207.4L543.4 206.9L543.4 206.4L543.5 206.0L543.5 205.4L543.5 204.9L543.5 204.2L543.5 203.9L543.6 203.4L543.6 202.8L543.6 202.4L543.6 201.8L543.7 201.2L543.7 200.8L543.7 200.3L543.8 200.0L543.8 199.3L543.8 198.9L543.8 198.4L543.9 197.9L543.9 197.5L543.9 197.0L544.0 196.7L544.0 196.3L544.0 196.2L544.0 195.5L544.1 195.1L544.1 194.5L544.1 194.3L544.1 193.9L544.2 193.3L544.2 193.0L544.2 192.6L544.3 192.2L544.3 191.7L544.3 191.3L544.3 191.0L544.4 190.4L544.4 190.0L544.4 189.4L544.5 189.1L544.5 188.6L544.5 188.1L544.6 187.8L544.6 187.3L544.6 186.7L544.6 186.4L544.7 186.0L544.7 185.6L544.7 185.1L544.8 184.7L544.8 184.4L544.8 183.9L544.9 183.5L544.9 183.1L544.9 182.7L545.0 182.3L545.0 181.7L545.1 181.5L545.1 181.2L545.1 180.7L545.2 180.4L545.2 180.1L545.2 179.8L545.3 179.4L545.3 179.1L545.4 178.7L545.4 178.5L545.5 177.9L545.6 177.4L545.7 176.7L545.8 176.2L545.8 175.9L545.9 175.2L546.0 174.8L546.1 174.3L546.2 173.9L546.3 173.5L546.4 173.4L546.5 172.8L546.6 172.5L546.7 171.9L546.9 171.8L547.0 171.5L547.1 171.1L547.2 170.9L547.3 170.7L547.4 170.2L547.6 170.2L547.7 169.9L548.0 169.5L548.3 169.0L548.7 168.7L549.0 168.4L549.4 168.2L549.7 168.0L550.1 167.8L550.4 167.8L550.8 167.6L551.1 167.4L551.5 167.3L552.0 167.1L552.4 167.0L552.8 166.7L553.2 166.7L553.6 166.4L553.9 166.7L554.2 167.0L554.5 167.5L554.7 167.9L554.9 168.5L555.1 168.7L555.3 169.0L555.4 168.9L555.3 168.7L555.2 168.1L555.3 167.5L555.8 167.1L556.8 166.7L557.0 166.7L557.3 166.6L557.5 166.6L557.7 166.5L558.0 166.3L558.2 166.5L558.5 166.4L558.8 166.2L559.1 166.4L559.4 166.3L559.7 166.3L560.0 166.3L560.3 166.2L560.6 166.3L561.0 166.2L561.3 166.2L561.7 166.2L562.1 166.1L562.4 166.1L562.8 166.1L563.2 166.0L563.6 166.0L564.1 165.9L564.5 166.0L565.0 166.0L565.4 166.0L565.9 165.9L566.4 165.9L566.9 165.9L567.4 165.8L567.9 165.8L568.5 165.9L569.0 165.8L569.6 165.7L570.2 165.9L570.8 165.7L571.4 165.6L572.0 165.8L572.3 165.6L572.6 165.6L572.9 165.4L573.2 165.5L573.5 165.5L573.9 165.6L574.2 165.5L574.5 165.5L574.9 165.6L575.2 165.4L575.6 165.4L576.0 165.5L576.3 165.4L576.7 165.4L577.1 165.3L577.4 165.3L577.8 165.3L578.2 165.3L578.6 165.3L579.0 165.2L579.4 165.0L579.8 165.2L580.2 165.2L580.6 165.2L581.0 165.1L581.4 165.1L581.8 165.2L582.3 165.1L582.7 165.1L583.1 165.2L583.5 165.0L584.0 165.0L584.4 164.9L584.8 165.0L585.3 164.9L585.7 165.1L586.1 164.9L586.6 164.9L587.0 164.8L587.4 164.8L587.9 164.8L588.3 164.9L588.8 164.8L589.2 164.8L589.7 164.9L590.1 164.7L590.5 164.7L591.0 164.7L591.4 164.7L591.9 164.7L592.3 164.7L592.8 164.6L593.2 164.6L593.6 164.6L594.1 164.6L594.5 164.5L595.0 164.7L595.4 164.5L595.8 164.5L596.3 164.3L596.7 164.5L597.1 164.4L597.5 164.3L598.0 164.4L598.4 164.4L598.8 164.6L599.2 164.4L599.6 164.4L600.0 164.5L600.4 164.3L600.8 164.3L601.2 164.5L601.6 164.3L602.0 164.3L602.4 164.3L602.8 164.3L603.2 164.2L603.5 164.5L603.9 164.2L604.3 164.2L604.6 164.3L605.0 164.2L605.5 164.2L605.9 164.0L606.4 164.2L606.9 164.2L607.3 164.3L607.8 164.1L608.2 164.1L608.7 164.3L609.1 164.1L609.6 164.1L610.0 164.3L610.5 164.1L610.9 164.1L611.4 164.2L611.8 164.1L612.3 164.1L612.7 164.3L613.1 164.1L613.6 164.1L614.0 164.3L614.4 164.1L614.9 164.1L615.3 163.9L615.7 164.1L616.1 164.1L616.6 164.0L617.0 164.1L617.4 164.1L617.8 164.3L618.2 164.1L618.6 164.1L619.0 164.4L619.4 164.2L619.8 164.2L620.2 164.1L620.6 164.2L621.0 164.2L621.4 164.0L621.8 164.2L622.2 164.2L622.6 164.3L623.0 164.2L623.3 164.2L623.7 164.2L624.1 164.2L624.5 164.2L624.8 164.4L625.2 164.2L625.6 164.2L625.9 164.4L626.3 164.3L626.6 164.3L627.0 164.1L627.3 164.3L627.7 164.3L628.0 164.3L628.3 164.3L628.7 164.3L629.0 164.3L629.3 164.3L629.7 164.3L630.0 164.1L630.5 164.3L631.1 164.3L631.6 164.5L632.1 164.3L632.6 164.3L633.1 164.3L633.6 164.4L634.1 164.4L634.6 164.3L635.1 164.4L635.6 164.4L636.0 164.4L636.5 164.4L636.9 164.4L637.4 164.6L637.8 164.5L638.2 164.5L638.6 164.7L639.0 164.5L639.5 164.5L639.8 164.4L640.2 164.5L640.6 164.6L641.0 164.7L641.3 164.6L641.7 164.6L642.0 164.6L642.4 164.6L642.7 164.6L643.0 164.6L643.3 164.6L643.6 164.6L643.9 164.4L644.2 164.6L644.5 164.6L644.7 164.5L645.0 164.6L646.0 164.5L646.7 164.6L647.2 164.3L647.5 164.2L647.7 164.2L647.9 164.0L648.2 163.9L648.5 163.9L649.0 164.0L649.4 164.2L649.8 164.6L650.3 164.7L650.7 165.0L651.0 164.9L651.4 165.0L651.7 164.8L651.9 164.7L652.1 164.2L652.3 163.8L652.5 163.5L652.7 162.9L652.9 162.5L653.1 162.3L653.3 161.7L653.5 161.3L653.8 161.0L654.1 160.7L654.3 160.4L654.6 159.9L654.8 159.7L655.0 159.3L655.2 158.9L655.3 158.5L655.4 158.2L655.5 158.0L655.5 157.5L655.6 157.1L655.7 156.8L655.7 156.4L655.8 155.9L655.8 155.6L655.9 155.1L655.9 154.6L656.0 154.2L656.1 153.6L656.2 153.3L656.2 152.9L656.3 152.5L656.3 152.1L656.4 151.5L656.4 151.2L656.5 150.7L656.6 150.0L656.6 149.8L656.7 149.3L656.8 148.8L656.8 148.4L656.9 147.9L657.0 147.6L657.0 147.1L657.1 146.7L657.2 146.2L657.2 145.9L657.3 145.6L657.3 145.4L657.4 145.1L657.8 144.3L658.2 144.2L658.5 144.3L659.0 144.3L659.4 143.7L659.5 143.4L659.5 143.1L659.6 142.6L659.7 142.2L659.7 141.7L659.8 141.1L659.8 140.6L659.9 140.1L660.0 139.6L660.0 139.1L660.1 138.6L660.2 138.1L660.3 137.9L660.3 137.6L660.4 137.7L660.5 137.5L660.7 137.6L660.8 138.2L661.0 138.5L661.1 139.1L661.3 139.7L661.4 140.3L661.6 140.8L661.7 141.1L661.9 141.7L662.0 142.3L662.1 142.9L662.3 143.3L662.4 143.8L662.6 144.1L662.7 144.4L662.8 144.6L663.0 144.7L663.1 144.2L663.2 143.7L663.4 142.9L663.5 142.6L663.7 142.2L664.0 141.9L664.3 141.3L664.6 141.1L664.9 141.2L665.1 141.3L665.2 141.5L665.4 141.9L665.5 142.1L665.7 142.5L665.8 142.8L666.0 143.5L666.1 144.1L666.2 144.2L666.2 144.8L666.3 145.1L666.3 145.7L666.4 145.9L666.5 146.3L666.5 146.9L666.6 147.2L666.6 147.7L666.7 148.0L666.7 148.6L666.8 149.0L666.8 149.5L666.9 149.9L666.9 150.4L667.0 150.9L667.1 151.2L667.1 151.7L667.2 152.1L667.2 152.5L667.3 153.0L667.4 153.5L667.4 153.9L667.5 154.3L667.5 154.6L667.6 155.2L667.7 155.6L667.7 155.8L667.8 156.4L667.9 156.8L667.9 157.3L668.0 157.4L668.2 157.9L668.3 158.4L668.5 158.8L668.7 159.1L668.9 159.2L669.1 159.7L669.2 160.0L669.4 160.2L669.6 160.7L669.7 161.1L669.9 161.4L670.1 162.0L670.2 162.4L670.4 162.8L670.5 163.1L670.7 163.6L670.9 163.9L671.1 164.5L671.3 164.8L671.5 164.9L671.8 164.9L672.0 164.6L672.3 164.1L672.7 163.9L673.1 163.7L673.5 163.7L674.0 163.3L674.5 163.3L675.0 163.4L675.2 163.7L675.4 163.8L675.6 163.9L675.9 164.3L676.1 164.5L676.3 164.8L676.5 165.2L676.7 165.7L676.9 166.4L677.1 166.9L677.3 167.7L677.4 168.2L677.4 168.2L677.5 168.5L677.5 168.9L677.6 169.1L677.6 169.5L677.6 169.6L677.7 170.1L677.7 170.5L677.8 171.0L677.8 171.2L677.9 171.5L677.9 171.7L677.9 172.3L678.0 172.7L678.0 173.1L678.1 173.5L678.1 173.9L678.1 174.3L678.2 174.8L678.2 175.2L678.3 175.8L678.3 176.1L678.3 176.6L678.4 177.0L678.4 177.5L678.5 178.0L678.5 178.4L678.5 178.9L678.6 179.4L678.6 179.7L678.7 180.5L678.7 181.0L678.8 181.4L678.8 182.0L678.8 182.3L678.9 182.9L678.9 183.1L678.9 183.4L678.9 183.6L679.0 184.3L679.0 184.7L679.0 184.9L679.1 185.6L679.1 186.0L679.1 186.6L679.2 187.0L679.2 187.5L679.2 188.0L679.2 188.5L679.3 189.0L679.3 189.4L679.3 190.0L679.4 190.6L679.4 190.9L679.4 191.6L679.5 192.1L679.5 192.7L679.5 193.2L679.6 193.7L679.6 194.1L679.6 194.7L679.6 195.3L679.7 195.7L679.7 196.3L679.7 196.8L679.8 197.1L679.8 197.7L679.8 198.2L679.9 198.8L679.9 199.1L679.9 199.5L680.0 200.1L680.0 200.4L680.0 200.8L680.1 201.3L680.1 201.5L680.1 201.8L680.1 202.1L680.2 202.5L680.2 202.8L680.2 203.0L680.3 203.3L680.3 203.5L680.3 203.7L680.4 203.9L680.4 204.0L680.4 204.0L680.4 204.3L680.5 204.4L680.5 204.6L680.5 204.4L680.6 204.4L680.6 204.2L680.6 204.3L680.7 204.2L680.7 204.2L680.7 203.9L680.8 203.7L680.8 203.5L680.8 203.2L680.9 202.9L680.9 202.4L680.9 202.2L681.0 201.9L681.0 201.7L681.0 201.1L681.1 200.7L681.1 200.4L681.1 199.8L681.2 199.4L681.2 198.8L681.2 198.4L681.3 197.9L681.3 197.3L681.3 196.9L681.4 196.4L681.4 195.8L681.4 195.3L681.5 194.7L681.5 194.3L681.5 193.6L681.5 193.1L681.6 192.7L681.6 192.0L681.6 191.4L681.7 191.1L681.7 190.3L681.7 189.8L681.8 189.2L681.8 188.7L681.8 188.2L681.9 187.7L681.9 187.2L681.9 186.7L682.0 186.3L682.0 185.8L682.0 185.4L682.1 185.0L682.1 184.7L682.1 184.3L682.1 183.8L682.2 183.5L682.2 183.1L682.2 182.8L682.2 182.2L682.3 181.8L682.3 181.5L682.3 180.9L682.3 180.5L682.4 179.8L682.4 179.6L682.4 179.1L682.5 178.6L682.5 178.2L682.5 177.7L682.5 177.1L682.6 176.8L682.6 176.3L682.6 175.8L682.6 175.4L682.7 174.9L682.7 174.3L682.7 174.0L682.7 173.6L682.8 173.3L682.8 172.7L682.8 172.2L682.8 171.7L682.9 171.3L682.9 170.9L682.9 170.3L683.0 170.0L683.0 169.6L683.0 169.1L683.0 168.8L683.1 168.4L683.1 168.0L683.1 167.6L683.1 167.2L683.2 166.7L683.2 166.5L683.2 166.1L683.2 165.6L683.3 165.5L683.3 165.1L683.3 164.7L683.3 164.5L683.4 164.2L683.4 164.0L683.4 163.7L683.4 163.5L683.5 163.1L683.5 163.0L683.8 161.2L684.1 160.3L684.4 160.3L684.6 160.8L684.9 161.5L685.0 161.7L685.0 161.9L685.1 162.2L685.1 162.2L685.2 162.5L685.3 162.6L685.3 162.9L685.4 163.2L685.4 163.4L685.5 163.8L685.6 164.2L685.6 164.6L685.7 165.0L685.7 165.4L685.8 166.0L685.9 166.4L685.9 167.0L686.0 167.7L686.0 168.3L686.1 169.0L686.1 169.7L686.2 170.6L686.2 170.9L686.2 171.3L686.3 171.5L686.3 171.8L686.3 171.9L686.3 172.5L686.3 172.9L686.3 173.3L686.3 173.6L686.4 174.0L686.4 174.3L686.4 174.9L686.4 175.3L686.4 175.7L686.4 176.3L686.5 176.7L686.5 177.1L686.5 177.7L686.5 178.2L686.5 178.9L686.5 179.2L686.5 179.7L686.6 180.2L686.6 180.8L686.6 181.3L686.6 182.0L686.6 182.4L686.6 182.9L686.6 183.6L686.7 184.0L686.7 184.5L686.7 185.0L686.7 185.6L686.7 186.1L686.7 186.8L686.8 187.2L686.8 187.7L686.8 188.1L686.8 188.7L686.8 189.2L686.8 189.7L686.8 190.2L686.9 190.7L686.9 191.4L686.9 191.7L686.9 192.1L686.9 192.7L686.9 193.0L686.9 193.5L687.0 194.0L687.0 194.3L687.0 194.7L687.0 195.2L687.0 195.4L687.0 195.8L687.1 195.9L687.1 196.5L687.1 196.8L687.1 197.2L687.1 197.3L687.1 197.6L687.1 197.7L687.2 198.0L687.2 198.2L687.2 198.4L687.2 198.6L687.2 198.7L687.2 198.9L687.3 198.9L687.3 199.0L687.3 199.1L687.3 199.0L687.3 199.0L687.4 199.0L687.4 198.9L687.4 198.8L687.4 198.9L687.4 198.5L687.5 198.3L687.5 198.0L687.5 197.9L687.5 197.6L687.6 197.2L687.6 197.1L687.6 196.8L687.6 196.6L687.6 196.1L687.7 195.7L687.7 195.3L687.7 194.9L687.7 194.5L687.8 194.3L687.8 193.6L687.8 193.2L687.8 192.7L687.8 192.2L687.9 191.7L687.9 191.1L687.9 190.7L687.9 190.2L688.0 189.8L688.0 189.2L688.0 188.6L688.0 188.0L688.1 187.5L688.1 187.0L688.1 186.6L688.1 185.9L688.2 185.3L688.2 184.7L688.2 184.2L688.2 183.7L688.2 183.2L688.3 182.6L688.3 182.1L688.3 181.4L688.3 181.0L688.4 180.5L688.4 180.1L688.4 179.5L688.4 179.0L688.5 178.4L688.5 178.0L688.5 177.6L688.5 177.0L688.6 176.7L688.6 176.3L688.6 175.7L688.6 175.5L688.7 175.1L688.7 174.9L688.7 174.4L688.7 173.9L688.8 173.5L688.8 172.8L688.8 172.3L688.9 171.8L688.9 171.3L689.0 170.8L689.0 170.2L689.0 169.9L689.1 169.4L689.1 168.8L689.1 168.4L689.2 168.0L689.2 167.5L689.2 167.1L689.3 166.6L689.3 166.0L689.4 165.8L689.4 165.4L689.4 164.8L689.5 164.5L689.5 164.2L689.5 163.6L689.6 163.4L689.6 163.0L689.7 162.7L689.7 162.3L689.7 162.0L689.8 161.5L689.8 161.3L689.9 161.0L689.9 160.6L690.0 160.4L690.0 160.2L690.1 160.1L690.1 159.7L690.2 159.4L690.2 159.2L690.5 158.1L690.9 157.6L691.3 157.3L691.7 157.5L692.1 157.6L692.5 157.8L692.8 157.9L693.2 158.3L693.5 158.9L693.8 159.2L694.1 159.4L694.4 159.3L694.5 159.0L694.6 158.8L694.7 158.6L694.9 158.1L695.0 157.7L695.1 157.2L695.2 156.8L695.3 156.3L695.5 155.9L695.6 155.3L695.7 154.8L695.8 154.3L695.9 153.9L696.0 153.5L696.1 153.3L696.2 152.8L696.3 152.5L696.6 151.5L696.8 150.9L697.0 150.4L697.2 150.5L697.5 150.6L697.6 150.8L697.7 151.2L697.8 151.3L697.9 151.6L697.9 151.9L698.0 152.4L698.1 152.8L698.3 153.3L698.4 153.8L698.5 154.2L698.6 154.8L698.7 155.2L698.8 155.7L698.9 156.2L699.0 156.7L699.1 157.1L699.2 157.5L699.4 157.9L699.5 158.3L699.6 158.4L699.8 159.1L700.0 159.6L700.3 160.3L700.5 160.5L700.8 160.9L701.0 161.3L701.3 161.6L701.5 161.9L701.8 162.3L702.0 162.3L702.2 162.4L702.6 162.6L703.0 162.3L703.3 162.0L703.6 161.4L704.0 161.1L704.3 160.7L704.5 160.3L704.8 160.0L705.0 159.6L705.2 159.1L705.4 158.8L705.6 158.4L705.8 157.9L706.0 157.7L706.3 157.3L706.6 156.7L706.9 156.4L707.1 156.1L707.4 156.0L707.7 156.0L707.9 156.1L708.1 156.1L708.2 156.5L708.4 156.8L708.6 157.1L708.8 157.6L709.0 158.1L709.2 158.8L709.4 159.4L709.5 159.7L709.6 160.2L709.6 160.4L709.7 160.9L709.8 161.3L709.9 161.9L710.0 162.4L710.1 163.2L710.2 163.6L710.3 164.2L710.4 164.7L710.5 165.3L710.5 165.9L710.6 166.6L710.7 167.0L710.8 167.5L710.9 168.1L711.0 168.4L711.1 168.8L711.2 169.3L711.3 169.4L711.4 169.6L711.5 169.7L711.5 169.8L711.6 169.7L711.7 169.7L711.7 169.5L711.8 169.3L711.8 169.3L711.9 168.9L711.9 168.7L711.9 168.3L712.0 168.1L712.0 167.7L712.1 167.5L712.1 167.0L712.1 166.6L712.2 166.2L712.2 165.7L712.3 165.2L712.3 164.6L712.3 164.2L712.4 163.7L712.4 163.1L712.4 162.6L712.5 162.1L712.5 161.5L712.6 161.0L712.6 160.4L712.6 159.8L712.7 159.3L712.7 158.7L712.7 158.2L712.8 157.6L712.8 157.1L712.8 156.8L712.9 156.1L712.9 155.6L712.9 155.2L713.0 154.6L713.0 154.1L713.0 153.8L713.1 153.3L713.1 152.9L713.1 152.5L713.2 152.2L713.2 151.8L713.2 151.8L713.3 151.3L713.3 151.1L713.3 150.8L713.4 150.7L713.4 150.6L713.5 150.3L713.5 150.4L713.6 150.5L713.7 150.8L713.7 150.9L713.8 151.2L713.8 151.7L713.9 152.0L714.0 152.5L714.0 152.8L714.1 153.5L714.1 154.1L714.2 154.8L714.2 155.3L714.3 155.9L714.4 156.6L714.4 157.1L714.5 157.7L714.5 158.2L714.6 158.8L714.6 159.2L714.7 159.6L714.7 160.0L714.8 160.3L715.0 161.0L715.1 161.9L715.3 162.5L715.4 163.2L715.6 163.2L715.8 163.2L716.1 162.6L716.2 162.6L716.3 162.4L716.4 162.2L716.5 161.8L716.6 161.4L716.7 160.8L716.8 160.5L716.9 160.0L717.0 159.5L717.1 159.0L717.3 158.5L717.4 157.8L717.5 157.4L717.6 156.9L717.7 156.5L717.9 155.9L718.0 155.4L718.1 155.0L718.2 154.5L718.3 154.1L718.4 153.7L718.5 153.4L718.6 153.1L718.7 153.0L718.8 152.8L718.9 152.7L719.0 152.5L719.1 152.8L719.2 153.1L719.3 153.6L719.4 153.8L719.4 154.3L719.5 154.7L719.6 155.4L719.7 156.0L719.7 156.6L719.8 157.2L719.9 157.8L719.9 158.3L720.0 158.9L720.0 159.3L720.1 159.8L720.2 160.0L720.2 160.2L720.3 160.5L720.4 160.3L720.5 160.1L720.5 159.8L720.6 159.5L720.7 159.0L720.8 158.4L720.8 158.0L720.9 157.4L721.0 156.7L721.1 156.2L721.1 155.7L721.2 155.0L721.3 154.6L721.4 154.2L721.4 153.9L721.5 153.6L721.6 153.5L721.7 153.7L721.9 153.7L722.0 154.1L722.1 154.9L722.2 155.3L722.4 155.9L722.5 156.6L722.6 157.1L722.8 157.5L722.9 157.8L723.2 157.7L723.4 157.3L723.7 157.0L724.0 156.2L724.3 155.8L724.6 155.5L724.8 155.7L725.1 156.1L725.3 156.3L725.5 157.0L725.8 157.5L726.0 158.1L726.3 158.2L726.7 158.4L727.1 158.7L727.5 158.6L727.9 158.7L728.4 159.0L728.8 159.0L729.1 159.3L729.4 159.6L729.8 160.1L730.1 160.5L730.4 160.8L730.7 161.2L731.0 161.5L731.3 161.7L731.6 161.3L731.8 161.0L732.1 160.4L732.3 160.0L732.5 159.4L732.8 159.0L733.0 158.5L733.2 158.3L733.4 158.1L733.5 158.3L733.7 158.6L733.8 158.7L733.9 159.4L734.0 159.9L734.1 160.6L734.2 160.9L734.3 161.5L734.5 162.0L734.6 162.4L734.7 162.8L734.9 163.3L735.2 163.6L735.4 163.9L735.7 164.2L735.9 164.5L736.2 164.8L736.4 165.1L736.5 165.6L736.6 166.0L736.7 166.3L736.8 166.7L737.0 167.1L737.1 167.4L737.2 168.0L737.3 168.4L737.3 168.8L737.4 169.3L737.5 169.7L737.6 170.1L737.7 170.4L737.8 170.8L737.9 171.1L738.0 171.1L738.2 171.2L738.2 171.3L738.3 171.9L738.4 172.6L738.5 173.9L738.5 174.0L738.5 174.3L738.5 174.3L738.6 174.8L738.6 175.1L738.6 175.4L738.6 175.6L738.6 175.9L738.6 176.3L738.6 176.5L738.6 176.8L738.6 177.1L738.7 177.5L738.7 177.8L738.7 178.3L738.7 178.5L738.7 178.8L738.7 179.1L738.7 179.6L738.7 179.9L738.7 180.3L738.7 180.7L738.8 181.1L738.8 181.4L738.8 181.9L738.8 182.3L738.8 182.8L738.8 183.2L738.8 183.6L738.8 184.1L738.8 184.5L738.8 184.9L738.8 185.3L738.9 185.8L738.9 186.3L738.9 186.9L738.9 187.3L738.9 187.8L738.9 188.2L738.9 188.8L738.9 189.3L738.9 189.7L738.9 190.3L739.0 190.8L739.0 191.5L739.0 191.9L739.0 192.4L739.0 193.2L739.0 193.3L739.0 193.6L739.0 194.2L739.0 194.3L739.0 194.7L739.0 195.3L739.0 195.4L739.1 195.8L739.1 195.9L739.1 196.5L739.1 196.9L739.1 197.2L739.1 197.7L739.1 198.1L739.1 198.4L739.1 199.0L739.1 199.4L739.1 199.7L739.1 200.2L739.1 200.7L739.1 201.2L739.2 201.6L739.2 202.0L739.2 202.6L739.2 202.9L739.2 203.4L739.2 203.8L739.2 204.3L739.2 204.8L739.2 205.4L739.2 205.7L739.2 206.1L739.2 206.6L739.2 207.1L739.2 207.6L739.3 207.8L739.3 208.5L739.3 209.0L739.3 209.4L739.3 209.9L739.3 210.4L739.3 211.0L739.3 211.3L739.3 211.8L739.3 212.2L739.3 212.7L739.3 213.2L739.3 213.7L739.4 214.1L739.4 214.5L739.4 215.1L739.4 215.4L739.4 215.9L739.4 216.5L739.4 216.8L739.4 217.2L739.4 217.6L739.4 218.1L739.4 218.5L739.4 218.8L739.4 219.3L739.4 219.7L739.5 220.1L739.5 220.5L739.5 220.9L739.5 221.2L739.5 221.7L739.5 222.0L739.5 222.3L739.5 222.8L739.5 223.1L739.5 223.6L739.5 223.8L739.5 224.1L739.5 224.3L739.5 224.7L739.6 225.0L739.6 225.2L739.6 225.6L739.6 225.9L739.6 226.0L739.6 226.4L739.6 226.7L739.6 226.9L739.6 228.4L739.7 229.7L739.7 230.7L739.8 231.7L739.8 232.4L739.8 233.0L739.9 233.2L739.9 233.3L740.0 233.4L740.0 232.9L740.1 232.4L740.1 231.9L740.1 231.5L740.1 231.3L740.1 231.3L740.1 230.9L740.1 230.7L740.2 230.7L740.2 230.2L740.2 229.9L740.2 229.5L740.2 229.3L740.2 229.0L740.2 228.9L740.2 228.3L740.2 228.0L740.2 227.6L740.3 227.3L740.3 226.9L740.3 226.3L740.3 226.1L740.3 225.7L740.3 225.5L740.3 224.9L740.3 224.4L740.3 223.9L740.4 223.6L740.4 223.1L740.4 222.5L740.4 222.2L740.4 221.7L740.4 221.3L740.4 220.8L740.4 220.3L740.4 219.6L740.5 219.4L740.5 218.9L740.5 218.3L740.5 217.9L740.5 217.4L740.5 216.9L740.5 216.5L740.5 216.0L740.5 215.3L740.6 215.0L740.6 214.5L740.6 214.1L740.6 213.6L740.6 213.1L740.6 212.8L740.6 212.2L740.7 211.7L740.7 211.3L740.7 210.8L740.7 210.4L740.7 210.1L740.7 209.5L740.7 209.1L740.8 208.6L740.8 208.3L740.8 207.9L740.8 207.5L740.8 207.1L740.8 206.6L740.9 206.1L740.9 205.8L740.9 205.4L740.9 205.1L740.9 204.5L740.9 204.1L741.0 203.5L741.0 203.2L741.0 202.8L741.0 202.5L741.0 202.0L741.1 201.5L741.1 201.1L741.1 200.7L741.1 200.3L741.1 199.9L741.2 199.4L741.2 199.0L741.2 198.7L741.2 198.1L741.2 197.7L741.3 197.2L741.3 196.9L741.3 196.5L741.3 195.9L741.4 195.7L741.4 195.2L741.4 195.0L741.4 194.4L741.5 194.0L741.5 193.4L741.5 193.2L741.5 192.8L741.5 192.3L741.6 192.0L741.6 191.6L741.6 191.2L741.6 190.9L741.7 190.5L741.7 190.1L741.7 189.7L741.7 189.3L741.8 189.0L741.8 188.6L741.8 188.2L741.8 187.8L741.9 187.5L741.9 187.1L741.9 186.6L741.9 186.4L742.0 186.0L742.0 185.6L742.0 185.2L742.1 184.7L742.1 184.4L742.2 183.8L742.2 183.3L742.2 182.6L742.3 182.4L742.3 181.9L742.4 181.4L742.4 181.0L742.4 180.5L742.5 180.1L742.5 179.6L742.6 179.2L742.6 178.6L742.7 178.3L742.7 177.9L742.8 177.2L742.8 177.0L742.8 176.6L742.9 176.2L742.9 175.8L743.0 175.4L743.0 175.0L743.1 174.6L743.1 174.2L743.2 174.0L743.2 173.5L743.3 173.1L743.3 172.8L743.3 172.4L743.4 172.1L743.4 171.9L743.5 171.4L743.5 171.1L743.6 170.8L743.6 170.5L743.7 170.3L743.7 169.9L743.8 169.2L744.0 168.6L744.1 168.1L744.3 167.6L744.4 167.2L744.6 166.9L744.7 166.6L744.8 166.3L745.0 166.0L745.1 165.8L745.3 165.5L745.4 165.2L745.5 164.7L745.7 164.2L745.8 163.7L745.9 163.0L746.1 162.5L746.2 161.9L746.3 161.4L746.4 161.0L746.6 160.5L746.7 160.4L746.8 160.3L746.9 160.2L747.0 160.4L747.0 160.6L747.1 160.7L747.1 161.3L747.2 161.7L747.2 162.1L747.3 162.6L747.3 163.1L747.4 163.6L747.4 164.2L747.5 164.8L747.5 165.2L747.6 165.8L747.6 166.2L747.7 166.8L747.8 167.0L747.8 167.3L747.9 167.7L748.2 167.9L748.6 167.8L749.0 167.4L749.5 166.9L749.8 166.3L749.9 165.9L750.0 165.8L750.1 165.6L750.3 165.5L750.3 165.0L750.4 164.7L750.5 164.4L750.6 163.9L750.7 163.4L750.8 163.0L750.9 162.2L751.0 161.5L751.0 161.4L751.1 160.9L751.1 160.6L751.1 160.1L751.2 159.8L751.2 159.4L751.3 159.1L751.3 158.5L751.3 158.1L751.4 157.6L751.4 157.1L751.4 156.6L751.5 155.9L751.5 155.6L751.5 155.1L751.6 154.5L751.6 154.2L751.7 153.7L751.7 153.2L751.7 152.7L751.8 152.2L751.8 152.0L751.8 151.3L751.9 150.9L751.9 150.4L751.9 150.1L752.0 149.8L752.0 149.3L752.1 149.1L752.1 148.9L752.1 148.8L752.2 148.4L752.2 148.2L752.4 147.9L752.6 148.1L752.8 148.9L753.0 149.6L753.2 150.4L753.4 150.6L753.5 150.4L753.7 150.2L753.8 149.9L753.9 149.5L754.1 149.0L754.2 148.5L754.3 148.2L754.5 147.5L754.6 147.0L754.8 146.5L754.9 146.1L755.1 145.7L755.3 145.3L755.5 144.9L755.7 144.6L755.9 144.2L756.1 144.0L756.3 143.7L756.5 143.4L756.7 143.0L756.9 142.6L757.1 142.3L757.2 141.8L757.4 141.4L757.5 141.0L757.7 140.7L757.8 140.3L758.0 140.0L758.1 139.4L758.3 139.0L758.5 138.5L758.6 138.1L758.8 137.7L758.9 137.2L759.1 137.0L759.2 136.6L759.4 136.5L759.5 136.0L759.8 135.4L760.1 134.6L760.4 134.2L760.7 133.8L760.9 133.5L761.2 133.4L761.4 133.6L761.5 133.9L761.6 134.0L761.7 134.3L761.7 134.5L761.8 135.1L761.9 135.6L762.0 135.9L762.0 136.6L762.1 137.1L762.2 137.6L762.3 138.1L762.3 138.6L762.4 139.0L762.4 139.6L762.5 140.0L762.5 140.4L762.6 140.7L762.6 140.9" stroke="#111" stroke-width="1.35"/>
</g>
<g stroke="#111" stroke-width="1.1" fill="none">
<line x1="430.5" y1="8" x2="763.2" y2="8" stroke="#444" stroke-width="1.3"/>
<line x1="430.5" y1="7.2" x2="430.5" y2="254.5"/>
<line x1="763.2" y1="7.8" x2="763.2" y2="254.5" stroke="#c8c8c8" stroke-width="1"/>
<line x1="430" y1="254.5" x2="763.2" y2="254.5"/>
<path d="M430.3 254.5V259.5M479.2 254.5V259.5M528.2 254.5V259.5M577.2 254.5V259.5M626.1 254.5V259.5M675.0 254.5V259.5M724.0 254.5V259.5M454.8 254.5V257.3M503.7 254.5V257.3M552.7 254.5V257.3M601.6 254.5V257.3M650.6 254.5V257.3M699.5 254.5V257.3M748.5 254.5V257.3"/>
</g>
<g class="sans" font-size="11.1" fill="#000" stroke="#000" stroke-width="0.3">
<text x="417.7" y="271.4" textLength="25.3" lengthAdjust="spacingAndGlyphs">4000</text>
<text x="466.6" y="271.4" textLength="25.3" lengthAdjust="spacingAndGlyphs">3500</text>
<text x="515.6" y="271.4" textLength="25.3" lengthAdjust="spacingAndGlyphs">3000</text>
<text x="564.6" y="271.4" textLength="25.3" lengthAdjust="spacingAndGlyphs">2500</text>
<text x="613.5" y="271.4" textLength="25.3" lengthAdjust="spacingAndGlyphs">2000</text>
<text x="662.4" y="271.4" textLength="25.3" lengthAdjust="spacingAndGlyphs">1500</text>
<text x="711.4" y="271.4" textLength="25.3" lengthAdjust="spacingAndGlyphs">1000</text>
</g>
<text x="533.3" y="297.6" font-size="16" class="b" fill="#111" textLength="129.4" lengthAdjust="spacingAndGlyphs">Wavenumber(cm</text><text x="663.2" y="289" font-size="10" class="b" fill="#111">−</text><text x="668.6" y="288.6" font-size="9.5" class="b" fill="#111">1</text><text x="673.2" y="297.6" font-size="16" class="b" fill="#111">)</text>
<text transform="translate(412.9 212.9) rotate(-90)" font-size="17.5" class="b" fill="#111" textLength="13.8" lengthAdjust="spacingAndGlyphs">%</text><text transform="translate(412.3 198.3) rotate(-90)" font-size="16.8" class="b" fill="#111" textLength="108.4" lengthAdjust="spacingAndGlyphs">Transmittance</text>
<text x="439.6" y="37.7" font-size="16.4" fill="#ff0000" textLength="163.8" lengthAdjust="spacingAndGlyphs">NR-TiO<tspan font-size="10.5">2</tspan>-B24h 0.5%wt</text>
<text x="435.8" y="150.9" font-size="17.2" fill="#222">NR</text>
<g fill="#ff0000">
<text x="528.5" y="123.8" font-size="10.9" class="b" textLength="20.4" lengthAdjust="spacingAndGlyphs">C-H</text>
<text x="552" y="123.8" font-size="10.2" textLength="40.2" lengthAdjust="spacingAndGlyphs">stretching</text>
<text x="694.5" y="84.7" font-size="10.2" textLength="40.3" lengthAdjust="spacingAndGlyphs">stretching</text>
<text x="672.6" y="106.6" font-size="10.9" class="b" textLength="20.4" lengthAdjust="spacingAndGlyphs">C-H</text>
<text x="669.7" y="118.3" font-size="10.3" textLength="33.6" lengthAdjust="spacingAndGlyphs">bending</text>
<text x="727.7" y="132.8" font-size="10.9" class="b" textLength="21.5" lengthAdjust="spacingAndGlyphs">C=C</text>
<text x="716.4" y="141.9" font-size="10.3" textLength="32.8" lengthAdjust="spacingAndGlyphs">bending</text>
</g>
<g fill="#222">
<text x="527.5" y="232.6" font-size="11.3" fill="#111" stroke="#111" stroke-width="0.35" textLength="20.6" lengthAdjust="spacingAndGlyphs">C-H</text>
<text x="550.8" y="232.5" font-size="10.3" class="b" textLength="41.9" lengthAdjust="spacingAndGlyphs">stretching</text>
<text x="691.6" y="192.8" font-size="10.2" fill="#333" textLength="40.3" lengthAdjust="spacingAndGlyphs">stretching</text>
<text x="669" y="215.1" font-size="11.3" fill="#111" stroke="#111" stroke-width="0.35" textLength="21" lengthAdjust="spacingAndGlyphs">C-H</text>
<text x="666.5" y="225.7" font-size="10.3" fill="#333" textLength="33.3" lengthAdjust="spacingAndGlyphs">bending</text>
<text x="723.9" y="241.5" font-size="11.3" fill="#111" stroke="#111" stroke-width="0.35" textLength="21.8" lengthAdjust="spacingAndGlyphs">C=C</text>
<text x="713.9" y="250.6" font-size="10.3" fill="#333" textLength="33.3" lengthAdjust="spacingAndGlyphs">bending</text>
</g>
<text x="561.8" y="460.3" font-size="18.3" fill="#111">(<tspan class="b">b</tspan>)</text>
</svg>
</body></html>
